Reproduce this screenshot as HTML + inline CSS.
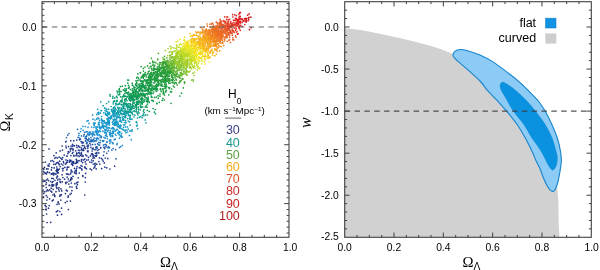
<!DOCTYPE html>
<html><head><meta charset="utf-8"><title>Omega plots</title>
<style>html,body{margin:0;padding:0;background:#fff;overflow:hidden}svg{display:block}</style>
</head><body>
<svg width="600" height="270" viewBox="0 0 600 270">
<rect width="600" height="270" fill="#fff"/>
<g stroke-linecap="round" stroke-width="1.7" fill="none">
<path stroke="#63b533" d="M176.3 62.9h.01M173.2 64.0h.01M165.3 63.1h.01M172.9 68.4h.01M180.8 74.2h.01M185.6 69.1h.01M177.6 69.8h.01M170.2 65.3h.01M179.1 70.4h.01M180.1 68.3h.01M172.8 67.6h.01M181.2 72.5h.01M180.2 72.8h.01M166.5 60.8h.01M166.1 63.0h.01M172.8 68.2h.01M172.7 65.9h.01M172.3 67.7h.01M176.3 68.0h.01M172.5 63.3h.01M169.3 61.5h.01M163.7 62.6h.01M173.8 67.3h.01M180.2 65.6h.01M176.6 74.5h.01M183.9 73.8h.01M179.9 69.5h.01M193.1 79.8h.01M169.4 64.7h.01M180.7 67.6h.01M169.3 65.3h.01M164.6 59.1h.01M169.5 68.6h.01M166.9 57.9h.01M171.2 65.7h.01M176.4 80.1h.01M168.0 67.4h.01M173.9 70.8h.01M176.9 71.1h.01M167.4 68.4h.01M163.4 59.4h.01M170.0 59.4h.01M168.0 62.8h.01"/>
<path stroke="#f3971f" d="M208.7 38.3h.01M206.4 37.9h.01M210.3 37.7h.01M208.5 36.4h.01M213.4 40.1h.01M215.6 46.2h.01M209.8 38.9h.01M217.3 43.9h.01M203.7 37.2h.01M209.7 44.9h.01M204.7 36.8h.01M203.4 36.1h.01M201.2 32.6h.01M216.1 41.2h.01M218.1 47.5h.01M208.4 39.1h.01M205.9 38.5h.01M201.3 38.8h.01M207.1 38.3h.01M213.6 38.8h.01M204.8 32.9h.01M211.5 46.4h.01M206.2 37.6h.01M207.0 39.3h.01M207.0 39.8h.01M208.3 45.9h.01M213.7 41.6h.01M211.1 39.4h.01M208.7 37.2h.01M210.5 38.4h.01M215.3 43.4h.01M209.2 40.5h.01M202.8 33.3h.01M215.3 43.7h.01M205.7 38.4h.01M208.9 39.1h.01M208.3 39.1h.01M210.2 43.4h.01M214.0 36.8h.01M215.3 42.6h.01M214.4 41.3h.01M205.0 34.3h.01M211.4 37.8h.01M206.7 38.2h.01M215.2 43.4h.01M217.4 47.3h.01M205.8 37.8h.01"/>
<path stroke="#f18320" d="M213.3 38.2h.01M217.7 35.1h.01M202.5 29.2h.01M212.9 35.9h.01M210.0 33.8h.01M210.2 34.0h.01M210.9 35.3h.01M215.6 36.2h.01M210.0 34.3h.01M215.0 36.5h.01M214.3 34.5h.01M213.8 36.8h.01M206.5 31.7h.01M210.9 38.6h.01M211.5 37.4h.01M215.1 33.3h.01M207.8 32.8h.01M210.9 35.0h.01M214.1 35.9h.01M206.7 30.4h.01M211.7 35.6h.01M216.8 40.6h.01M206.0 29.7h.01M212.7 40.6h.01M210.7 36.0h.01M210.5 32.3h.01M211.4 31.5h.01M218.6 37.7h.01M212.0 34.3h.01M223.7 45.6h.01M208.7 34.2h.01M210.5 32.8h.01M216.9 44.1h.01M205.3 30.9h.01M212.7 32.9h.01M214.8 32.7h.01M209.9 31.9h.01M219.7 35.5h.01M215.8 36.9h.01M216.0 35.1h.01M214.0 37.5h.01M211.5 36.7h.01M206.3 35.6h.01M211.5 37.4h.01M214.6 32.3h.01"/>
<path stroke="#119db4" d="M107.1 111.4h.01M115.1 110.9h.01M113.5 110.2h.01M117.8 111.4h.01M123.0 119.5h.01M122.2 117.2h.01M115.4 111.4h.01M104.6 108.0h.01M101.4 110.5h.01M127.1 112.9h.01M116.0 105.0h.01M125.3 117.4h.01M125.7 115.8h.01M97.6 109.4h.01M120.7 110.3h.01M113.4 112.3h.01M125.7 117.0h.01M129.7 118.0h.01M119.7 115.0h.01M123.2 114.2h.01M114.4 109.5h.01M130.8 119.3h.01M115.0 107.0h.01M114.6 113.9h.01M116.4 112.9h.01M113.2 114.9h.01M123.8 113.0h.01M124.6 114.4h.01M123.0 118.9h.01M117.8 110.8h.01"/>
<path stroke="#1d9c42" d="M150.4 77.8h.01M154.0 79.2h.01M148.3 79.6h.01M148.8 79.6h.01M155.5 86.3h.01M147.8 80.3h.01M154.7 80.5h.01M158.5 85.1h.01M166.3 90.3h.01M145.3 72.6h.01M157.9 85.7h.01M143.8 75.9h.01M154.2 79.5h.01M163.1 93.1h.01M156.5 84.2h.01M150.8 80.2h.01M161.6 85.6h.01M143.5 71.1h.01M150.2 80.9h.01M156.9 86.1h.01M146.0 83.0h.01M154.7 82.5h.01M152.1 79.4h.01M152.2 76.6h.01M148.9 82.5h.01M154.7 88.5h.01M149.5 75.1h.01M158.6 83.7h.01M162.8 89.1h.01M156.3 88.0h.01M144.8 74.1h.01M156.5 87.6h.01M150.7 80.3h.01M156.3 74.4h.01M150.2 80.3h.01M157.3 80.7h.01M142.8 76.0h.01M163.5 92.2h.01"/>
<path stroke="#263c90" d="M88.3 145.0h.01M95.0 149.8h.01M92.3 148.9h.01M105.3 158.0h.01M93.1 148.1h.01M101.5 158.3h.01M98.8 152.9h.01M78.7 146.6h.01M81.9 142.8h.01M87.5 146.2h.01M86.6 143.7h.01M73.8 140.7h.01M82.2 145.6h.01M103.5 155.3h.01M95.9 147.4h.01M96.8 152.7h.01"/>
<path stroke="#7bbf31" d="M173.6 64.0h.01M179.5 60.4h.01M186.4 71.5h.01M181.9 65.7h.01M186.9 70.6h.01M170.9 65.2h.01M173.5 59.8h.01M173.0 61.6h.01M181.9 67.2h.01M174.0 62.0h.01M177.8 64.8h.01M172.9 69.5h.01M182.9 69.3h.01M175.0 60.4h.01M181.5 70.3h.01M179.6 69.5h.01M177.3 61.7h.01M174.9 64.4h.01M187.1 74.7h.01M173.1 61.7h.01M174.0 61.9h.01M173.7 59.3h.01M175.3 61.4h.01M173.2 62.9h.01M172.1 56.7h.01M177.7 66.1h.01M181.5 72.3h.01M170.2 57.1h.01M183.7 71.2h.01M165.5 63.4h.01M175.9 59.5h.01M174.7 65.1h.01"/>
<path stroke="#a8d12c" d="M177.2 53.1h.01M171.7 47.7h.01M179.9 67.9h.01M189.3 62.6h.01M185.6 61.0h.01M178.1 56.9h.01M180.5 58.5h.01M178.1 62.8h.01M183.2 61.3h.01M182.2 62.0h.01M175.9 61.1h.01M190.1 71.1h.01M181.8 57.5h.01M178.3 54.0h.01M177.1 54.6h.01M172.4 53.1h.01M179.4 53.5h.01M190.8 67.3h.01M177.0 58.8h.01M193.7 67.4h.01M184.2 61.0h.01M176.0 48.4h.01M180.8 54.5h.01M184.1 63.0h.01M189.5 67.9h.01M186.9 67.0h.01M186.8 61.5h.01M181.7 57.7h.01M186.2 69.1h.01M178.5 52.8h.01M182.4 59.4h.01M182.9 57.8h.01M185.9 64.2h.01M185.6 62.5h.01M183.7 59.1h.01M183.3 64.3h.01M174.4 57.0h.01M181.6 58.2h.01M183.1 64.6h.01M183.0 54.9h.01M184.8 63.4h.01M189.0 72.0h.01M178.2 58.4h.01M174.1 51.3h.01M176.4 56.0h.01M177.6 51.4h.01M178.5 58.0h.01M186.0 64.9h.01"/>
<path stroke="#209c3f" d="M148.8 76.4h.01M150.2 76.8h.01M154.6 76.8h.01M156.6 79.8h.01M150.7 73.6h.01M156.9 77.9h.01M157.5 76.5h.01M156.2 75.5h.01M152.3 75.4h.01M153.6 74.5h.01M153.4 78.8h.01M153.8 78.8h.01M158.4 80.0h.01M152.1 74.2h.01M153.2 72.5h.01M148.3 77.2h.01M158.7 80.1h.01M154.9 77.1h.01M151.5 76.4h.01M153.2 72.5h.01M143.3 75.2h.01M158.0 82.4h.01M147.1 74.3h.01M150.2 73.5h.01M161.5 82.1h.01M169.6 87.6h.01M157.6 74.4h.01M166.8 86.6h.01M154.8 76.2h.01M163.8 82.0h.01M169.4 88.6h.01M170.7 91.6h.01M156.9 80.6h.01M150.6 74.6h.01M164.0 88.7h.01M170.6 91.9h.01M158.3 80.1h.01M154.5 78.1h.01M144.4 76.1h.01M159.0 83.2h.01M171.5 92.0h.01M148.4 77.3h.01"/>
<path stroke="#253787" d="M44.5 167.3h.01M67.1 177.1h.01M72.0 178.8h.01M68.9 174.4h.01M76.2 173.7h.01M58.3 172.6h.01M64.6 179.2h.01M57.2 170.6h.01M58.3 170.1h.01M56.6 171.4h.01M85.3 182.0h.01M56.2 170.7h.01M43.6 169.3h.01M53.7 173.3h.01M85.3 177.6h.01M56.7 167.0h.01M78.3 177.8h.01M48.1 165.0h.01M57.5 169.3h.01M48.2 165.9h.01M54.9 173.7h.01M70.7 179.2h.01M49.1 166.1h.01"/>
<path stroke="#e1e523" d="M190.7 52.7h.01M198.0 63.8h.01M201.6 63.8h.01M187.6 59.0h.01M187.8 56.2h.01M192.9 55.2h.01M189.7 50.1h.01M192.3 54.9h.01M182.5 49.3h.01M193.5 55.4h.01M194.7 56.3h.01M195.6 53.4h.01M193.2 52.5h.01M188.9 52.0h.01M186.5 46.5h.01M194.4 52.7h.01M186.5 48.2h.01M183.5 43.7h.01M183.5 50.9h.01M184.2 49.3h.01M188.5 54.3h.01M188.3 53.4h.01M188.4 53.4h.01M192.6 56.3h.01M194.9 55.3h.01M186.4 53.2h.01M187.2 51.6h.01M192.0 52.8h.01M191.8 49.7h.01M176.2 41.9h.01M188.9 48.3h.01M185.6 49.1h.01M187.4 55.0h.01M188.8 48.0h.01M194.3 59.6h.01M188.2 45.6h.01M196.3 58.7h.01"/>
<path stroke="#0b9e9d" d="M121.4 108.2h.01M139.3 117.3h.01M121.9 104.8h.01M134.1 111.3h.01M125.8 112.8h.01M118.4 112.9h.01M129.0 112.3h.01M130.3 110.1h.01M113.4 101.9h.01M119.9 104.1h.01M142.5 115.5h.01M130.0 111.6h.01M133.9 117.0h.01M120.1 112.4h.01M132.1 113.2h.01M132.9 114.6h.01M108.7 101.7h.01M122.1 110.0h.01M132.2 113.6h.01M127.8 113.0h.01M134.8 115.2h.01M122.2 110.1h.01M106.6 103.5h.01M131.2 112.3h.01"/>
<path stroke="#e45629" d="M220.4 20.5h.01M225.0 24.1h.01M230.0 30.9h.01M220.5 22.9h.01M229.0 34.1h.01M229.4 25.9h.01M227.3 27.0h.01M227.6 26.2h.01M226.6 28.8h.01M219.1 23.8h.01M227.3 24.2h.01M231.9 32.4h.01M227.8 27.8h.01M226.4 30.3h.01M227.6 28.4h.01M220.5 22.7h.01M227.9 30.0h.01M226.0 30.9h.01M236.4 32.2h.01M226.8 30.3h.01M232.3 35.2h.01M226.8 31.3h.01M232.5 31.3h.01M225.5 25.9h.01M220.0 19.3h.01M222.9 30.1h.01"/>
<path stroke="#0a9855" d="M119.6 93.1h.01M130.3 97.2h.01M143.7 102.0h.01M142.3 103.7h.01M129.3 96.6h.01M135.5 105.7h.01M137.1 103.2h.01M136.8 103.3h.01M124.4 96.3h.01M125.6 96.2h.01M132.4 96.6h.01M146.4 105.7h.01M122.3 96.8h.01M131.1 96.6h.01M147.2 110.3h.01M128.0 94.6h.01M134.5 95.5h.01M131.0 95.5h.01M132.6 99.0h.01M139.0 100.9h.01M139.9 102.9h.01M133.1 97.8h.01M131.8 99.6h.01M126.0 99.0h.01M124.8 99.7h.01M140.6 106.0h.01M135.9 99.0h.01M133.0 95.2h.01M134.2 102.9h.01M149.2 111.4h.01M119.6 90.9h.01M132.9 92.5h.01M140.4 105.1h.01M124.9 88.9h.01M120.3 86.6h.01M133.5 102.7h.01M133.1 93.0h.01M136.5 98.1h.01M142.3 102.4h.01"/>
<path stroke="#0f9dac" d="M111.4 109.7h.01M114.1 110.8h.01M127.8 113.4h.01M120.2 117.7h.01M128.3 114.1h.01M124.6 112.3h.01M113.5 113.4h.01M137.5 118.0h.01M114.6 112.0h.01M111.6 110.7h.01M126.0 113.8h.01M125.1 117.6h.01M104.9 108.4h.01M113.8 107.5h.01M120.6 111.1h.01M124.2 111.0h.01M119.3 114.7h.01M115.2 114.0h.01M123.9 120.2h.01M111.1 106.5h.01M125.5 111.0h.01M120.8 113.7h.01M126.0 113.6h.01M118.2 112.8h.01M119.1 111.1h.01M119.0 111.1h.01M121.9 113.6h.01M113.0 112.1h.01M116.1 109.7h.01M146.0 122.8h.01M108.8 114.5h.01"/>
<path stroke="#ed7323" d="M217.4 36.7h.01M220.4 39.1h.01M213.7 30.7h.01M215.5 29.4h.01M217.5 33.0h.01M223.0 36.9h.01M221.3 31.4h.01M215.9 31.6h.01M222.5 31.4h.01M212.3 32.0h.01M215.8 31.6h.01M212.5 27.4h.01M217.2 34.8h.01M211.8 23.6h.01M221.7 35.2h.01M212.8 32.8h.01M221.2 39.3h.01M214.7 29.1h.01M218.1 31.9h.01M209.9 24.2h.01M216.5 35.6h.01M218.3 36.1h.01M216.6 31.8h.01M218.2 35.5h.01M221.3 34.0h.01M219.2 34.6h.01M215.1 30.2h.01M213.2 29.7h.01M220.5 35.7h.01M216.0 31.1h.01M213.8 28.8h.01M220.4 36.5h.01M221.4 37.4h.01M220.5 36.3h.01M220.0 32.4h.01M222.5 37.8h.01M213.9 30.6h.01M222.8 36.9h.01M213.9 27.0h.01M219.5 41.3h.01M215.1 30.0h.01M218.5 31.0h.01M219.2 31.3h.01M216.3 33.7h.01"/>
<path stroke="#289e3a" d="M172.0 80.0h.01M164.4 71.3h.01M160.4 68.9h.01M169.5 81.0h.01M175.4 82.5h.01M159.1 66.4h.01M176.0 79.3h.01M166.0 78.1h.01M165.2 78.9h.01M162.2 73.0h.01M157.7 70.2h.01M163.0 76.6h.01M159.7 74.9h.01M162.4 72.3h.01M163.6 72.0h.01M164.9 80.8h.01M161.4 73.8h.01M164.2 72.4h.01M158.1 68.6h.01M167.0 76.2h.01M153.3 69.2h.01M166.0 73.8h.01M174.3 83.6h.01M159.3 67.5h.01M167.8 79.0h.01M165.6 76.6h.01M165.4 72.2h.01M163.8 77.0h.01M162.2 75.8h.01M169.3 76.2h.01M160.8 67.6h.01M163.4 70.7h.01M164.8 76.2h.01M173.2 79.5h.01M169.3 78.9h.01M161.4 68.6h.01M159.2 71.6h.01M154.7 68.7h.01M163.6 73.4h.01"/>
<path stroke="#f4e420" d="M187.4 48.8h.01M188.4 44.1h.01M194.5 55.0h.01M196.4 53.6h.01M199.1 53.7h.01M193.0 50.5h.01M196.4 47.9h.01M193.0 52.6h.01M195.3 53.3h.01M184.9 42.0h.01M188.6 46.2h.01M205.6 56.3h.01M191.2 46.0h.01M193.7 52.4h.01M199.7 53.8h.01M204.4 61.9h.01M207.2 58.1h.01M191.9 48.6h.01M191.2 43.1h.01M195.3 48.9h.01M195.3 47.6h.01M197.7 47.6h.01M193.8 47.7h.01M197.5 51.4h.01M191.2 46.5h.01M193.3 52.2h.01M194.5 44.3h.01M188.1 41.2h.01M187.1 43.4h.01M184.7 44.0h.01M203.0 49.1h.01M208.3 58.4h.01M207.5 57.2h.01M201.3 54.0h.01M191.6 45.7h.01M187.5 44.3h.01M193.5 48.3h.01M195.6 53.6h.01M198.7 53.6h.01M203.0 47.5h.01M196.3 55.6h.01M195.6 45.3h.01M188.4 49.2h.01M200.8 53.7h.01M183.9 46.0h.01M202.5 56.5h.01M200.0 49.3h.01M187.1 42.3h.01M193.5 46.9h.01M193.2 46.8h.01M202.0 51.0h.01M195.0 51.6h.01M187.2 46.5h.01M199.0 57.9h.01M205.0 64.0h.01M195.5 46.9h.01M195.7 50.8h.01M188.0 46.6h.01"/>
<path stroke="#0a9b75" d="M136.6 107.2h.01M114.8 97.9h.01M131.0 97.9h.01M130.2 105.0h.01M133.1 106.1h.01M126.6 103.7h.01M136.7 99.0h.01M145.5 114.8h.01M134.2 110.9h.01M117.1 97.6h.01M138.7 109.8h.01M128.5 103.8h.01M125.3 104.2h.01M117.1 100.4h.01M136.7 104.0h.01M137.2 104.5h.01M126.9 104.5h.01M129.2 98.8h.01M114.5 100.9h.01M135.3 104.5h.01M143.4 111.1h.01M131.8 109.4h.01M130.1 103.7h.01"/>
<path stroke="#0d9da4" d="M128.5 115.5h.01M122.0 108.8h.01M140.6 116.6h.01M130.0 117.2h.01M123.8 116.6h.01M118.9 108.2h.01M100.8 101.8h.01M125.9 115.2h.01M113.1 108.4h.01M118.6 108.3h.01M123.7 113.8h.01M125.3 111.6h.01M136.2 121.9h.01M145.2 119.9h.01M112.2 111.4h.01M118.2 108.7h.01M103.1 105.7h.01M114.7 111.7h.01M111.8 110.2h.01M124.8 116.3h.01M131.9 119.2h.01M130.4 115.4h.01M127.7 118.6h.01M121.0 110.1h.01M127.6 111.3h.01M121.5 113.4h.01M117.1 113.3h.01M122.2 114.6h.01M115.2 108.6h.01"/>
<path stroke="#57b034" d="M164.4 61.1h.01M168.8 63.0h.01M169.3 71.2h.01M169.9 68.7h.01M165.0 61.0h.01M175.7 75.3h.01M180.1 80.9h.01M179.7 76.7h.01M171.2 71.7h.01M171.7 68.3h.01M176.0 71.0h.01M167.8 60.3h.01M167.4 65.9h.01M179.6 75.6h.01M173.7 72.2h.01M169.0 68.3h.01M174.5 75.2h.01M169.5 71.2h.01M161.8 65.1h.01M174.9 75.8h.01M169.7 66.7h.01M171.2 64.8h.01M167.2 64.2h.01M173.5 72.9h.01M173.1 64.2h.01M167.2 64.0h.01M161.4 62.5h.01M165.9 66.1h.01M176.0 74.6h.01M171.4 70.4h.01M163.3 62.2h.01M167.7 61.0h.01M167.1 65.3h.01M177.3 73.3h.01M178.3 75.0h.01M165.9 66.6h.01M167.9 61.4h.01M177.9 77.0h.01M158.4 53.4h.01M174.4 68.1h.01M176.5 68.4h.01M176.0 73.6h.01M172.1 65.8h.01M171.6 67.9h.01M174.2 66.4h.01M157.8 59.0h.01M180.1 78.2h.01"/>
<path stroke="#259d3c" d="M160.7 73.5h.01M165.6 75.7h.01M157.8 71.5h.01M158.5 76.4h.01M157.4 66.9h.01M165.6 80.9h.01M160.3 75.6h.01M166.3 84.2h.01M153.0 74.7h.01M161.6 75.8h.01M157.0 71.8h.01M164.4 86.4h.01M165.9 81.6h.01M167.3 78.2h.01M160.3 72.5h.01M154.0 73.8h.01M170.0 83.2h.01M157.3 73.1h.01M165.2 80.1h.01M168.6 82.8h.01M158.1 70.5h.01M166.7 75.1h.01M154.4 73.1h.01M163.9 73.3h.01M156.2 74.0h.01M156.1 78.4h.01M168.3 80.1h.01M171.9 79.9h.01M162.8 78.1h.01M157.6 74.1h.01M162.0 79.9h.01M157.4 74.7h.01M149.2 71.1h.01M152.2 74.8h.01M149.9 63.2h.01M167.9 80.1h.01M147.6 65.9h.01M169.0 83.3h.01M171.6 89.0h.01M164.0 80.8h.01M156.3 75.8h.01M160.9 75.7h.01"/>
<path stroke="#169a47" d="M142.5 87.6h.01M136.1 85.1h.01M151.1 85.7h.01M136.7 77.9h.01M142.2 87.0h.01M148.9 89.0h.01M138.9 80.0h.01M145.7 88.8h.01M146.2 87.7h.01M144.9 86.0h.01M151.3 88.9h.01M136.9 86.5h.01M148.3 90.3h.01M151.2 96.1h.01M151.1 90.3h.01M150.5 90.0h.01M148.1 91.8h.01M147.6 89.9h.01M136.6 82.1h.01M145.0 88.5h.01M164.3 100.1h.01M141.4 85.9h.01M146.8 83.1h.01M141.0 83.5h.01M148.1 89.3h.01M144.7 87.1h.01M151.8 88.1h.01M150.2 93.6h.01M151.6 89.3h.01M139.1 87.7h.01M150.1 93.5h.01"/>
<path stroke="#243483" d="M48.5 180.6h.01M52.0 184.8h.01M47.4 179.0h.01M52.8 184.8h.01M52.7 185.6h.01M52.9 186.1h.01M72.0 187.0h.01M53.8 184.8h.01M43.1 181.5h.01M61.0 188.9h.01M76.4 186.5h.01M46.4 182.8h.01M56.6 187.6h.01"/>
<path stroke="#0c984e" d="M134.0 92.6h.01M138.1 94.9h.01M126.3 90.5h.01M134.2 99.8h.01M140.8 101.8h.01M136.6 97.2h.01M135.3 93.9h.01M141.6 97.9h.01M120.9 91.6h.01M119.4 89.3h.01M147.7 101.6h.01M138.1 92.6h.01M137.3 96.4h.01M138.1 94.3h.01M132.4 97.9h.01M134.3 95.8h.01M155.3 109.5h.01M136.7 104.7h.01M141.7 94.2h.01M118.7 91.5h.01M134.7 96.6h.01M144.4 101.1h.01M144.9 99.6h.01M128.6 92.0h.01M126.8 93.0h.01M147.3 102.0h.01M133.4 94.8h.01M137.4 96.8h.01M131.1 96.6h.01M131.1 95.0h.01M147.3 99.7h.01M128.3 92.9h.01M135.3 96.4h.01M137.9 98.2h.01M126.4 88.9h.01M136.2 90.8h.01M138.4 102.2h.01M132.1 96.9h.01"/>
<path stroke="#e34a28" d="M229.6 29.3h.01M231.7 25.3h.01M225.4 26.2h.01M227.6 27.6h.01M235.6 35.9h.01M230.8 27.1h.01M230.0 25.8h.01M234.2 32.4h.01M237.1 25.9h.01M226.7 24.1h.01M224.7 27.4h.01M228.9 24.7h.01M228.2 29.5h.01M228.9 29.4h.01M235.7 26.7h.01M225.9 26.2h.01M220.3 22.3h.01M237.0 31.4h.01M225.5 22.9h.01"/>
<path stroke="#1c9b43" d="M168.8 94.8h.01M165.6 87.6h.01M154.7 82.1h.01M140.5 72.8h.01M150.6 78.3h.01M150.3 76.4h.01M150.4 82.9h.01M143.1 76.2h.01M165.8 88.5h.01M148.7 80.6h.01M163.7 93.9h.01M143.4 78.3h.01M147.2 79.8h.01M137.8 73.8h.01M155.1 86.9h.01M160.8 89.9h.01M145.0 74.3h.01M154.5 89.5h.01M146.0 75.6h.01M151.4 79.7h.01M160.5 88.6h.01M156.3 88.0h.01M151.9 79.5h.01M138.6 78.1h.01M149.8 82.8h.01M155.9 86.0h.01M149.2 80.5h.01M150.0 78.5h.01M145.0 80.1h.01M153.7 83.0h.01M141.9 80.9h.01M146.5 80.6h.01M151.7 82.0h.01"/>
<path stroke="#0a9d8a" d="M118.4 104.4h.01M112.9 96.4h.01M136.1 109.3h.01M143.3 114.0h.01M129.6 109.6h.01M131.5 107.3h.01M124.0 111.1h.01M123.3 104.0h.01M140.2 109.8h.01M114.3 107.0h.01M123.5 108.3h.01M117.9 104.4h.01M144.2 112.6h.01M131.3 107.7h.01M130.0 107.6h.01M127.6 108.1h.01M130.9 109.4h.01M132.3 106.7h.01M124.0 102.8h.01M133.0 108.2h.01M130.4 108.5h.01M126.0 111.2h.01M121.5 100.3h.01M134.0 108.5h.01M113.3 103.8h.01"/>
<path stroke="#f18920" d="M216.2 34.2h.01M209.0 33.3h.01M219.8 46.4h.01M215.7 34.7h.01M204.2 32.2h.01M215.5 44.0h.01M204.1 27.4h.01M221.1 46.6h.01M213.4 39.5h.01M214.8 39.3h.01M205.8 33.6h.01M214.6 40.8h.01M210.8 34.6h.01M206.8 35.0h.01M209.1 33.3h.01M211.9 36.8h.01M210.4 34.3h.01M211.8 35.7h.01M216.5 36.3h.01M200.8 27.4h.01M213.0 37.5h.01M208.8 32.1h.01M215.4 38.0h.01M210.0 35.9h.01M215.7 36.0h.01M212.2 36.0h.01M222.9 43.5h.01M207.6 35.2h.01M207.4 33.1h.01M212.2 38.2h.01M216.1 38.4h.01M217.2 37.5h.01M202.4 32.3h.01M219.7 42.2h.01M218.2 39.7h.01M207.6 40.6h.01M216.2 45.7h.01M218.7 43.8h.01M210.1 38.4h.01"/>
<path stroke="#ee7821" d="M212.4 26.5h.01M217.5 30.7h.01M215.8 33.4h.01M215.1 32.6h.01M217.8 34.7h.01M220.7 36.5h.01M215.3 35.1h.01M213.7 32.7h.01M212.7 33.0h.01M219.0 35.1h.01M214.6 28.4h.01M219.3 36.6h.01M224.1 41.3h.01M222.8 35.8h.01M219.9 35.2h.01M227.2 41.3h.01M213.4 29.5h.01M222.4 42.5h.01M222.5 37.8h.01M220.9 31.8h.01M214.9 29.4h.01M213.0 29.0h.01M218.5 35.6h.01M217.0 31.5h.01M214.2 33.2h.01M216.2 33.8h.01M217.9 34.8h.01M214.9 31.1h.01M216.9 34.0h.01M210.0 30.6h.01M214.0 31.4h.01M222.3 40.6h.01M212.1 30.3h.01M221.8 39.8h.01M218.3 34.4h.01M211.3 29.7h.01M219.0 32.7h.01M214.7 33.1h.01M213.0 33.9h.01M219.0 41.5h.01"/>
<path stroke="#263b8f" d="M84.7 147.2h.01M81.5 148.1h.01M83.6 148.7h.01M83.9 145.6h.01M81.5 149.3h.01M65.7 141.8h.01M99.8 164.1h.01M92.2 154.6h.01M87.5 151.1h.01M74.6 145.8h.01M66.1 141.4h.01M76.7 145.3h.01M87.3 146.0h.01M93.4 155.8h.01M92.3 153.5h.01M87.9 150.7h.01M98.9 149.6h.01M79.8 147.2h.01M87.8 148.1h.01M85.5 148.6h.01M83.0 150.1h.01"/>
<path stroke="#2077c2" d="M80.6 131.5h.01M94.8 140.9h.01M98.9 142.3h.01M95.2 144.4h.01M92.6 141.3h.01M86.2 131.6h.01M77.6 129.3h.01M86.8 135.9h.01M93.6 139.7h.01M101.4 136.3h.01M88.8 138.3h.01M87.6 139.9h.01M96.1 140.9h.01M86.0 136.7h.01M78.9 133.4h.01M92.2 133.4h.01M98.5 138.8h.01"/>
<path stroke="#c5db27" d="M187.4 59.0h.01M177.3 51.2h.01M188.8 55.7h.01M183.2 53.1h.01M184.9 59.5h.01M189.7 58.4h.01M185.5 64.8h.01M190.2 53.6h.01M189.9 60.7h.01M194.5 62.8h.01M190.7 58.1h.01M184.9 57.3h.01M184.5 53.9h.01M182.3 54.0h.01M196.7 65.3h.01M196.4 63.0h.01M189.8 58.2h.01M198.3 66.5h.01M184.2 58.4h.01M185.7 56.0h.01M183.7 53.5h.01M178.9 47.3h.01M187.9 53.9h.01M197.3 67.1h.01M182.3 57.6h.01M198.7 68.6h.01M182.8 51.7h.01M189.5 65.9h.01M180.8 51.3h.01M183.0 51.8h.01M194.6 66.1h.01M180.5 53.6h.01M190.3 59.7h.01"/>
<path stroke="#25388a" d="M85.6 173.4h.01M85.3 167.4h.01M56.2 152.8h.01M73.5 163.4h.01M71.5 164.1h.01M81.0 165.6h.01M77.1 166.6h.01M69.6 161.0h.01M64.2 155.1h.01M82.6 162.6h.01M72.3 164.6h.01M67.2 162.1h.01M84.7 167.0h.01M90.2 168.9h.01M72.2 162.4h.01M84.8 167.2h.01"/>
<path stroke="#e76027" d="M222.5 27.9h.01M217.7 25.8h.01M217.0 31.0h.01M222.2 26.1h.01M225.0 33.4h.01M225.8 29.6h.01M227.6 35.4h.01M230.7 30.9h.01M219.5 26.3h.01M225.4 27.9h.01M223.0 32.1h.01M230.4 33.5h.01M229.6 39.7h.01M226.7 34.6h.01M216.1 27.8h.01M220.7 24.4h.01M223.6 30.3h.01M221.3 32.9h.01M228.3 30.3h.01M230.1 32.4h.01M218.2 27.8h.01M227.5 35.1h.01M219.1 26.6h.01M216.0 26.8h.01M229.6 32.5h.01M232.7 39.7h.01M231.3 33.0h.01M235.9 37.2h.01M228.6 32.5h.01M227.7 27.7h.01M233.6 39.9h.01M223.3 31.5h.01M222.5 33.9h.01M229.6 37.2h.01M226.0 34.1h.01M219.6 28.5h.01M227.0 34.6h.01M222.1 25.0h.01"/>
<path stroke="#88c430" d="M169.8 55.4h.01M184.1 67.9h.01M175.2 56.7h.01M193.0 73.2h.01M179.7 65.7h.01M178.5 58.1h.01M191.7 80.1h.01M183.8 65.7h.01M184.1 65.8h.01M177.2 56.9h.01M170.8 60.8h.01M173.3 57.2h.01M177.3 65.6h.01M174.1 59.0h.01M173.5 57.8h.01M178.4 60.6h.01M171.6 58.4h.01M178.6 63.2h.01M185.8 72.2h.01M175.9 63.2h.01M181.4 64.4h.01M180.0 66.8h.01M179.6 65.1h.01M179.3 63.6h.01M175.3 58.3h.01M169.4 52.2h.01M184.0 70.6h.01M176.5 66.2h.01M182.1 75.8h.01M174.2 63.5h.01M186.5 72.5h.01M178.9 64.7h.01M176.7 62.7h.01M177.2 56.8h.01M171.5 57.3h.01M178.2 63.2h.01M185.7 73.6h.01M179.3 61.9h.01M170.6 55.2h.01M173.5 61.2h.01M170.4 62.7h.01M171.0 57.1h.01M178.1 62.6h.01M175.1 58.4h.01M175.1 62.1h.01M177.6 64.3h.01M182.4 59.5h.01M171.0 61.6h.01M186.7 75.1h.01M177.8 68.2h.01M193.4 81.1h.01M175.8 61.7h.01M172.3 53.4h.01M171.4 63.1h.01M176.2 56.2h.01M182.8 74.2h.01"/>
<path stroke="#129a4a" d="M142.1 90.6h.01M128.5 85.4h.01M140.5 88.7h.01M138.8 95.0h.01M144.4 94.1h.01M143.0 90.2h.01M134.6 89.9h.01M136.3 89.1h.01M142.9 94.4h.01M153.4 101.3h.01M151.6 97.2h.01M141.0 88.3h.01M135.2 91.8h.01M142.3 87.4h.01M144.5 94.7h.01M134.5 87.1h.01M142.6 91.4h.01M139.0 86.8h.01M141.5 86.6h.01M139.4 84.0h.01M139.0 89.6h.01M147.6 89.4h.01M156.9 103.4h.01M138.2 87.7h.01M139.2 94.6h.01M150.7 94.1h.01M139.8 91.0h.01M129.2 87.0h.01"/>
<path stroke="#b2d42a" d="M178.5 58.0h.01M181.1 61.0h.01M190.9 60.4h.01M186.6 59.8h.01M179.1 53.1h.01M181.1 59.7h.01M182.1 51.6h.01M184.3 56.2h.01M189.8 64.1h.01M179.5 56.1h.01M187.0 64.9h.01M192.1 61.2h.01M191.6 64.4h.01M183.0 57.8h.01M182.7 61.4h.01M180.8 58.4h.01M179.6 58.9h.01M191.7 64.5h.01M184.6 55.6h.01M186.8 62.1h.01M176.5 53.2h.01M180.9 55.8h.01M170.9 51.5h.01M173.9 47.9h.01M175.2 50.8h.01M181.2 56.9h.01M184.0 67.0h.01M181.6 55.5h.01M177.1 47.1h.01M191.6 69.0h.01M192.2 67.2h.01M185.1 53.1h.01M181.9 60.9h.01M180.4 54.6h.01M176.1 54.6h.01M180.8 58.0h.01M182.2 58.1h.01M186.8 63.2h.01M175.8 55.2h.01M178.5 57.8h.01M197.4 70.0h.01M180.3 56.7h.01M188.1 60.7h.01M185.4 59.9h.01M181.1 57.8h.01M185.5 61.0h.01M189.7 63.2h.01M181.3 55.8h.01M181.1 55.3h.01M194.7 63.7h.01M168.1 48.5h.01M181.1 53.5h.01M186.5 63.3h.01"/>
<path stroke="#f5a51f" d="M206.2 48.8h.01M208.9 40.2h.01M217.1 47.2h.01M206.3 46.9h.01M204.0 44.5h.01M206.1 40.3h.01M207.9 37.2h.01M206.9 41.2h.01M203.6 36.5h.01M209.3 44.4h.01M206.3 40.4h.01M215.0 49.9h.01M207.6 41.7h.01M206.8 38.9h.01M213.7 45.3h.01M213.7 42.1h.01M208.9 43.7h.01M205.2 41.8h.01M211.0 41.8h.01M196.7 32.9h.01M204.1 36.0h.01M196.9 38.8h.01M207.7 38.8h.01M207.5 43.2h.01M208.3 47.1h.01M202.3 42.2h.01M197.8 32.2h.01M204.6 33.0h.01M208.2 40.8h.01M210.3 52.2h.01M200.1 34.8h.01M201.6 44.0h.01M209.8 40.7h.01M198.9 32.0h.01M209.7 44.0h.01M203.2 35.3h.01M201.9 39.6h.01M209.8 41.7h.01M202.8 39.1h.01M203.0 35.9h.01M199.9 33.2h.01M210.6 39.2h.01M202.8 39.9h.01M203.6 42.0h.01"/>
<path stroke="#f6cb1f" d="M198.9 45.0h.01M195.1 40.7h.01M196.7 44.4h.01M194.1 46.9h.01M191.1 39.9h.01M198.0 41.2h.01M204.8 49.5h.01M191.0 41.1h.01M206.7 50.2h.01M199.5 47.2h.01M195.8 45.2h.01M198.9 44.6h.01M198.2 43.2h.01M194.3 43.7h.01M206.6 52.0h.01M192.2 38.6h.01M196.4 44.6h.01M203.9 50.6h.01M204.3 51.1h.01M200.3 48.0h.01M200.8 52.2h.01M203.7 56.2h.01M193.7 41.8h.01M196.0 41.5h.01M203.2 45.3h.01M209.9 57.5h.01M198.1 49.0h.01M200.1 45.5h.01M192.1 41.3h.01M200.9 48.9h.01M202.4 44.7h.01M195.6 45.5h.01M195.0 40.6h.01M193.2 42.6h.01M200.1 46.4h.01M201.5 47.1h.01M204.4 47.2h.01M197.0 44.1h.01M194.2 41.1h.01M195.4 45.7h.01"/>
<path stroke="#e12622" d="M238.8 24.1h.01M240.5 23.0h.01M232.8 17.0h.01M226.9 17.0h.01M238.1 22.3h.01M239.4 22.0h.01M240.3 30.3h.01M238.0 22.3h.01M236.2 18.4h.01M237.8 22.9h.01M228.1 19.7h.01M235.2 20.7h.01M237.1 25.4h.01M237.3 21.9h.01M239.1 26.3h.01"/>
<path stroke="#24327f" d="M48.5 208.2h.01M57.7 210.8h.01M59.8 211.5h.01M58.2 202.6h.01M46.1 209.0h.01M47.4 197.0h.01M57.5 215.2h.01M68.4 209.5h.01M46.2 195.5h.01M49.2 205.6h.01M46.2 206.7h.01M43.7 193.5h.01M53.2 199.9h.01M43.4 196.9h.01M45.2 205.4h.01M45.8 209.5h.01M61.6 208.1h.01M56.4 211.7h.01M46.1 209.8h.01M59.1 204.0h.01M52.2 200.8h.01M50.7 222.3h.01M47.1 222.5h.01M57.0 204.3h.01M46.9 200.0h.01M49.6 198.8h.01M45.2 205.6h.01M46.6 214.0h.01M61.6 214.4h.01M65.3 202.6h.01"/>
<path stroke="#263b8e" d="M96.3 155.9h.01M69.0 152.2h.01M68.5 146.6h.01M96.4 155.5h.01M91.4 153.9h.01M82.1 150.4h.01M76.7 153.4h.01M114.6 166.2h.01M92.9 158.1h.01M83.0 155.7h.01M88.0 151.8h.01M91.8 162.3h.01M103.2 161.1h.01M79.1 156.4h.01M106.8 167.8h.01M77.0 147.4h.01M102.5 159.7h.01M99.5 157.9h.01M88.3 159.8h.01M90.5 155.9h.01M95.1 155.5h.01M78.3 150.0h.01M70.9 148.4h.01M65.9 146.0h.01M79.0 152.4h.01M86.8 155.8h.01M78.5 145.8h.01M96.8 155.0h.01M71.0 146.0h.01M73.0 150.1h.01M79.8 150.3h.01M81.7 154.1h.01M70.7 149.0h.01M93.0 154.5h.01M72.5 144.4h.01M83.7 150.4h.01M80.6 155.4h.01M107.8 158.6h.01M81.3 152.5h.01M72.4 146.4h.01"/>
<path stroke="#e65b28" d="M216.4 22.2h.01M218.0 26.5h.01M229.2 27.9h.01M230.5 31.1h.01M221.0 25.5h.01M221.5 25.2h.01M219.6 24.2h.01M217.5 24.0h.01M221.3 21.3h.01M230.6 33.0h.01M221.9 29.1h.01M225.2 30.0h.01M227.5 32.3h.01M228.4 34.2h.01M222.1 25.8h.01M221.6 25.6h.01M226.1 28.7h.01M222.9 27.4h.01M220.4 22.2h.01M219.8 23.7h.01M223.5 27.7h.01M225.4 29.2h.01M219.3 22.6h.01M216.0 25.9h.01M221.1 25.6h.01M222.0 31.6h.01M232.9 37.8h.01M224.9 31.5h.01M228.0 34.3h.01M224.4 25.8h.01M222.8 24.4h.01M224.1 26.8h.01M223.8 26.5h.01M227.0 36.5h.01M222.6 27.8h.01M225.8 29.5h.01"/>
<path stroke="#269d3b" d="M165.4 81.3h.01M166.4 81.0h.01M160.9 72.5h.01M145.1 67.0h.01M151.4 68.4h.01M156.2 71.7h.01M153.3 62.8h.01M156.3 69.3h.01M157.3 73.8h.01M158.0 69.4h.01M172.2 80.4h.01M164.6 78.1h.01M161.2 72.3h.01M156.1 71.9h.01M165.1 77.4h.01M168.2 81.1h.01M174.6 83.6h.01M163.7 72.8h.01M163.1 73.3h.01M164.7 74.0h.01M163.5 69.3h.01M161.2 79.5h.01M163.5 79.8h.01M167.3 72.9h.01M150.5 66.7h.01M167.0 72.1h.01M158.0 77.1h.01M158.2 69.1h.01M154.2 66.8h.01M150.9 66.2h.01M165.0 73.7h.01M172.6 82.4h.01M167.2 81.1h.01M161.3 76.2h.01M162.3 76.0h.01M163.3 73.6h.01M154.1 73.2h.01M167.9 73.2h.01M160.0 72.7h.01M159.4 69.4h.01M164.8 84.4h.01M162.5 67.7h.01"/>
<path stroke="#f49e1f" d="M214.3 38.7h.01M203.2 39.5h.01M217.6 48.4h.01M209.5 40.9h.01M209.3 42.1h.01M198.0 35.9h.01M211.5 42.7h.01M200.7 32.0h.01M204.4 37.9h.01M208.1 43.7h.01M208.5 40.4h.01M217.1 51.3h.01M207.4 36.6h.01M192.6 36.2h.01M209.9 40.7h.01M198.3 38.7h.01M207.7 38.7h.01M205.5 40.2h.01M214.8 48.7h.01M204.7 36.1h.01M214.1 46.2h.01M210.4 46.6h.01M215.6 43.5h.01M202.9 31.4h.01M210.3 46.0h.01M216.3 42.0h.01M205.2 36.7h.01M208.0 38.9h.01M208.5 38.6h.01M203.6 35.2h.01M210.9 41.6h.01M216.1 50.1h.01M207.5 45.1h.01M211.8 46.1h.01M204.9 41.2h.01M211.9 49.3h.01M205.2 39.1h.01M204.9 40.8h.01M212.2 38.3h.01M210.5 45.4h.01M217.0 49.1h.01M214.9 42.2h.01M208.3 37.8h.01"/>
<path stroke="#e24227" d="M225.5 21.6h.01M228.2 24.0h.01M231.0 24.8h.01M239.4 28.9h.01M224.7 22.0h.01M227.8 23.9h.01M231.0 26.4h.01M229.7 25.7h.01M231.7 23.8h.01M231.4 27.5h.01M225.5 22.7h.01M228.5 23.0h.01M230.3 30.8h.01M233.2 22.7h.01"/>
<path stroke="#f07c20" d="M213.4 40.8h.01M219.0 39.6h.01M213.8 40.1h.01M216.6 39.5h.01M214.9 40.8h.01M218.6 39.1h.01M209.4 30.3h.01M210.0 27.1h.01M216.3 38.0h.01M217.1 37.9h.01M210.5 26.9h.01M220.4 41.5h.01M211.6 35.9h.01M214.9 33.0h.01M208.5 34.6h.01M205.1 30.4h.01M212.4 35.7h.01M207.1 24.0h.01M217.2 40.0h.01M220.0 40.0h.01M218.8 31.0h.01M215.7 32.5h.01M210.8 42.7h.01M215.1 34.6h.01M219.0 40.9h.01M212.4 35.5h.01M216.3 34.7h.01M208.9 31.0h.01M208.8 29.8h.01M214.6 37.4h.01M216.8 37.3h.01M208.5 32.6h.01M206.6 30.4h.01M215.4 28.7h.01M207.3 26.2h.01M214.6 35.2h.01M215.7 41.3h.01M212.6 33.0h.01M210.7 35.3h.01M209.3 29.9h.01M217.5 33.9h.01M216.5 37.1h.01M216.9 37.8h.01M211.9 37.0h.01M221.0 39.6h.01"/>
<path stroke="#263a8d" d="M76.7 153.1h.01M80.0 153.9h.01M94.0 157.6h.01M72.3 153.3h.01M78.5 153.0h.01M62.1 146.0h.01M68.2 151.7h.01M98.9 161.5h.01M73.0 152.3h.01M94.4 158.0h.01M73.8 155.4h.01M104.3 162.9h.01M95.1 165.5h.01M94.9 164.1h.01M93.3 164.0h.01M96.0 156.3h.01M89.9 162.2h.01M70.1 149.1h.01M93.2 160.8h.01M75.7 150.8h.01M77.9 155.8h.01M73.1 149.2h.01M91.6 160.0h.01M77.9 160.9h.01M71.8 148.5h.01M109.9 169.0h.01M62.5 150.1h.01"/>
<path stroke="#1798ca" d="M123.5 125.0h.01M112.5 122.2h.01M113.6 123.9h.01M123.5 129.9h.01M123.5 127.4h.01M109.3 123.6h.01M119.7 127.8h.01M98.7 122.8h.01M99.6 120.5h.01M105.8 122.5h.01M107.1 128.1h.01M116.1 124.5h.01M109.5 121.0h.01M125.6 126.8h.01M101.5 119.9h.01M111.1 118.2h.01M94.9 120.0h.01M97.9 117.9h.01M125.9 122.6h.01M108.3 124.0h.01M124.8 124.8h.01M106.5 125.6h.01M115.4 124.6h.01M111.6 118.0h.01M122.5 129.3h.01M118.5 131.0h.01M108.2 121.4h.01M116.5 122.1h.01M116.5 129.5h.01M119.7 125.6h.01"/>
<path stroke="#0e994d" d="M140.1 94.9h.01M142.7 99.4h.01M132.4 88.9h.01M133.1 100.3h.01M149.2 102.4h.01M133.1 85.8h.01M130.4 89.5h.01M143.9 95.2h.01M140.7 93.2h.01M147.6 98.7h.01M147.5 104.1h.01M130.2 93.7h.01M139.9 96.3h.01M133.2 92.7h.01M146.4 97.9h.01M135.0 87.6h.01M146.6 101.2h.01M150.5 93.0h.01M137.2 97.7h.01M140.0 95.8h.01M132.5 96.2h.01M128.0 92.8h.01M125.3 85.7h.01M133.8 92.6h.01M148.8 101.1h.01M124.6 90.7h.01"/>
<path stroke="#e86426" d="M220.5 26.6h.01M226.9 35.6h.01M215.3 29.1h.01M221.3 27.0h.01M214.0 26.9h.01M224.0 32.4h.01M221.8 35.9h.01M213.3 25.1h.01M223.9 31.4h.01M229.5 35.6h.01M224.3 32.6h.01M223.4 32.5h.01M223.1 31.1h.01M221.9 33.4h.01M224.5 32.5h.01M218.9 26.8h.01M218.9 30.8h.01M221.0 28.8h.01M222.1 26.1h.01M221.4 31.8h.01M225.8 33.5h.01M217.9 28.2h.01M224.1 32.3h.01M217.6 35.2h.01M225.8 31.8h.01M226.9 37.6h.01M224.6 28.8h.01M222.2 27.7h.01M218.3 29.3h.01M217.5 23.1h.01"/>
<path stroke="#0a9e94" d="M121.9 101.8h.01M136.8 122.7h.01M128.6 111.9h.01M119.9 107.5h.01M124.2 108.7h.01M121.9 101.1h.01M128.0 109.9h.01M116.4 104.2h.01M132.3 112.0h.01M135.9 111.5h.01M138.3 111.8h.01M117.8 107.4h.01M130.7 112.3h.01M127.9 106.7h.01M118.8 109.7h.01M123.8 106.8h.01M127.8 107.2h.01M122.7 106.3h.01M117.9 114.8h.01M126.2 106.6h.01M126.9 105.9h.01M130.2 115.5h.01M136.4 111.8h.01M130.8 112.0h.01M125.5 109.1h.01M137.9 114.9h.01M143.9 115.6h.01M129.3 115.4h.01M117.0 101.3h.01M122.2 110.9h.01"/>
<path stroke="#254b9e" d="M88.2 146.3h.01M89.2 141.6h.01M97.0 147.0h.01M82.7 142.9h.01M104.7 148.6h.01M93.2 149.1h.01M105.8 146.8h.01M97.6 150.4h.01M96.6 153.5h.01M80.4 139.0h.01M82.4 142.0h.01M108.6 146.9h.01M96.0 149.1h.01M83.4 142.6h.01M87.8 146.7h.01M106.7 153.3h.01M92.6 144.5h.01M89.9 143.5h.01M116.0 158.8h.01"/>
<path stroke="#25398b" d="M70.2 160.9h.01M85.3 168.0h.01M62.7 157.5h.01M56.9 162.8h.01M70.9 155.6h.01M70.8 161.3h.01M76.6 160.2h.01M73.2 163.1h.01M66.6 162.3h.01M72.6 161.7h.01M93.8 168.1h.01M76.7 161.7h.01M67.1 156.1h.01M73.6 161.6h.01M86.5 168.8h.01M70.4 151.0h.01M66.7 156.1h.01M60.1 150.9h.01M67.7 160.6h.01M75.1 163.2h.01M55.9 157.3h.01M66.0 159.9h.01M61.9 159.3h.01M59.1 157.2h.01M76.2 159.3h.01M49.0 148.9h.01M81.8 169.9h.01M94.8 166.9h.01M80.3 167.9h.01M96.2 168.9h.01M75.4 163.5h.01M59.7 161.2h.01M79.2 160.6h.01M82.0 166.3h.01M76.5 163.1h.01M77.7 162.5h.01M71.0 160.4h.01"/>
<path stroke="#243381" d="M70.1 194.4h.01M70.4 201.1h.01M49.7 185.4h.01M68.2 195.9h.01M65.4 193.6h.01M48.1 190.8h.01M60.8 200.1h.01M49.1 185.4h.01M50.8 191.1h.01M68.1 197.2h.01M59.2 191.1h.01M51.8 192.1h.01"/>
<path stroke="#f6c31e" d="M204.8 48.8h.01M201.9 48.1h.01M199.0 45.8h.01M203.2 48.8h.01M199.6 45.3h.01M202.3 46.5h.01M196.4 44.9h.01M207.9 54.7h.01M202.8 46.5h.01M205.4 60.0h.01M197.8 44.0h.01M200.3 38.6h.01M202.9 49.5h.01M202.7 44.9h.01M203.1 47.2h.01M198.5 36.4h.01M208.0 55.8h.01M202.5 47.3h.01M212.6 55.2h.01M196.0 42.8h.01M196.8 38.3h.01M193.7 42.8h.01M204.4 56.4h.01M203.3 49.6h.01M198.6 42.9h.01M201.9 43.4h.01M202.9 47.6h.01M200.9 46.9h.01M204.3 50.0h.01M212.0 51.8h.01M193.8 39.5h.01M200.1 42.5h.01M198.0 44.0h.01M210.1 57.2h.01M205.6 56.0h.01M200.6 53.1h.01M190.0 33.6h.01M208.4 55.6h.01M202.6 47.0h.01M199.7 46.4h.01M193.3 35.2h.01M193.2 40.3h.01M200.2 44.6h.01"/>
<path stroke="#f2901f" d="M202.8 30.4h.01M213.8 35.2h.01M207.1 37.1h.01M207.9 35.9h.01M211.0 39.2h.01M207.4 39.4h.01M205.5 32.1h.01M208.7 38.4h.01M211.2 38.7h.01M206.5 29.2h.01M208.2 35.0h.01M206.2 34.2h.01M218.5 45.6h.01M207.1 36.4h.01M219.7 50.9h.01M206.5 34.7h.01M215.6 44.0h.01M210.7 38.8h.01M215.9 45.1h.01M212.9 38.5h.01M215.8 42.5h.01M214.5 45.4h.01M213.6 44.5h.01M212.7 40.2h.01M213.5 37.6h.01M214.8 34.3h.01M217.7 41.6h.01M214.6 38.9h.01M213.4 44.2h.01M220.9 43.2h.01M216.1 32.2h.01M207.5 31.0h.01M212.3 41.4h.01M210.6 39.5h.01M214.4 43.0h.01M215.1 40.5h.01M207.8 39.5h.01M208.9 36.0h.01M208.6 38.3h.01M210.6 41.0h.01M207.5 33.1h.01"/>
<path stroke="#4bab35" d="M179.8 81.9h.01M163.1 62.9h.01M169.1 71.4h.01M171.4 71.2h.01M168.6 68.6h.01M164.5 56.3h.01M169.5 73.1h.01M166.4 63.0h.01M165.8 64.3h.01M181.4 80.2h.01M157.6 59.7h.01M163.4 63.7h.01M169.3 70.7h.01M163.2 64.5h.01M166.4 62.2h.01M177.8 76.5h.01M184.5 83.3h.01M163.0 66.2h.01M169.0 66.1h.01M172.2 70.9h.01M169.7 70.6h.01M176.4 76.1h.01M166.3 64.5h.01M172.2 66.0h.01M172.0 67.0h.01M174.3 74.4h.01M172.2 72.7h.01M166.6 66.0h.01M160.4 63.0h.01M168.7 64.6h.01M181.0 74.9h.01M182.4 78.6h.01M168.0 64.3h.01M184.5 82.7h.01M157.9 64.1h.01M175.0 75.5h.01M172.0 74.8h.01"/>
<path stroke="#f7ba1e" d="M205.2 51.1h.01M203.3 43.2h.01M204.6 45.1h.01M193.8 39.9h.01M203.2 44.9h.01M200.4 41.0h.01M201.8 43.2h.01M213.6 52.2h.01M199.9 39.9h.01M208.3 49.6h.01M200.0 43.8h.01M203.9 46.9h.01M193.5 38.9h.01M206.5 49.6h.01M208.5 46.2h.01M208.3 49.3h.01M211.9 50.3h.01M203.3 46.8h.01M202.2 45.1h.01M206.4 46.7h.01M206.3 51.5h.01M204.0 49.5h.01M207.8 49.8h.01M203.9 48.7h.01M196.7 44.0h.01M201.6 48.1h.01M202.6 47.2h.01M194.0 40.4h.01M202.4 53.6h.01M206.6 51.1h.01M195.9 38.9h.01M204.3 47.4h.01M199.1 36.9h.01M199.5 40.9h.01M202.8 44.3h.01M205.2 49.9h.01M212.0 45.3h.01M198.8 42.3h.01M212.7 53.1h.01M199.0 47.7h.01M200.5 40.7h.01M209.0 57.4h.01M191.6 41.7h.01M214.8 55.7h.01M193.9 35.2h.01M203.6 43.5h.01"/>
<path stroke="#f4ec20" d="M197.0 59.1h.01M199.1 60.6h.01M195.3 53.2h.01M192.9 50.3h.01M192.1 49.3h.01M182.8 46.6h.01M198.3 60.2h.01M195.7 53.2h.01M189.8 46.5h.01M187.5 47.9h.01M189.6 47.7h.01M195.8 49.1h.01M189.6 45.9h.01M185.4 44.2h.01M188.7 45.8h.01M191.0 48.1h.01M196.6 54.9h.01M186.0 47.3h.01M195.9 58.1h.01M194.0 57.8h.01M196.0 49.8h.01M196.2 53.4h.01M185.8 49.1h.01M187.0 44.2h.01M209.4 62.0h.01M202.6 61.0h.01M186.7 49.8h.01M195.4 54.6h.01M188.7 47.1h.01M191.8 44.1h.01M201.4 57.4h.01M197.0 56.8h.01M190.7 50.6h.01M206.8 56.5h.01M198.9 56.6h.01M194.4 54.4h.01M195.7 50.2h.01M188.6 47.0h.01M201.0 54.6h.01M198.5 52.8h.01M187.0 43.0h.01M193.5 48.2h.01M199.5 58.2h.01"/>
<path stroke="#149cc4" d="M123.3 118.9h.01M114.1 116.8h.01M124.6 122.5h.01M105.5 114.3h.01M110.5 116.3h.01M112.9 114.1h.01M119.2 117.5h.01M111.5 116.1h.01M129.6 121.9h.01M120.5 120.4h.01M113.7 115.8h.01M114.9 123.7h.01M105.2 110.6h.01M123.2 120.2h.01M114.6 120.1h.01M125.7 120.6h.01M137.3 125.2h.01M115.6 115.8h.01M106.7 109.2h.01M120.8 120.7h.01M114.6 119.2h.01M129.7 131.0h.01"/>
<path stroke="#229c3e" d="M158.5 81.4h.01M159.8 70.4h.01M160.6 81.8h.01M168.6 87.6h.01M166.2 79.5h.01M162.3 81.8h.01M165.8 85.7h.01M156.0 78.5h.01M179.8 96.0h.01M157.6 78.8h.01M156.6 73.7h.01M161.7 79.9h.01M161.4 74.7h.01M158.0 75.7h.01M156.5 80.7h.01M161.3 76.5h.01M149.6 74.5h.01M153.9 73.1h.01M163.9 81.8h.01M155.9 74.8h.01M157.9 76.0h.01M154.8 69.7h.01M155.2 71.9h.01M155.9 69.2h.01M164.9 79.8h.01M164.7 83.3h.01M157.8 75.6h.01M143.5 68.4h.01M181.5 93.2h.01M159.2 80.3h.01M160.4 85.2h.01M153.4 74.0h.01M152.6 75.2h.01M148.3 71.8h.01M156.5 75.1h.01"/>
<path stroke="#da1b1f" d="M239.8 18.3h.01M242.3 19.7h.01M246.3 20.4h.01M235.6 18.7h.01M236.4 15.6h.01M234.8 14.8h.01M240.6 21.3h.01M249.4 29.7h.01"/>
<path stroke="#f6ac1e" d="M207.3 36.9h.01M209.9 42.1h.01M205.5 43.7h.01M195.8 31.8h.01M202.2 37.9h.01M210.7 50.8h.01M200.4 37.3h.01M210.7 45.8h.01M205.2 44.5h.01M207.4 41.8h.01M202.8 40.6h.01M199.7 39.2h.01M209.3 45.3h.01M207.7 40.2h.01M205.5 43.0h.01M202.9 38.6h.01M202.1 44.1h.01M204.3 38.7h.01M206.8 42.1h.01M202.3 42.1h.01M209.9 47.4h.01M214.7 49.2h.01M206.0 49.5h.01M209.6 45.2h.01M208.5 48.1h.01M207.2 48.4h.01M202.7 39.5h.01M210.6 42.8h.01M209.7 46.6h.01M204.8 44.6h.01M201.2 33.1h.01M196.4 35.2h.01M204.1 39.7h.01M209.9 52.7h.01M211.0 45.3h.01M209.8 47.7h.01"/>
<path stroke="#1996ce" d="M109.4 125.1h.01M131.2 139.7h.01M114.4 129.1h.01M110.1 132.3h.01M99.1 125.3h.01M111.2 128.5h.01M109.8 134.3h.01M105.6 130.2h.01M99.5 126.6h.01M112.6 128.5h.01M94.3 123.7h.01M108.5 130.2h.01M104.8 129.5h.01M121.7 137.1h.01M102.9 123.1h.01M106.1 129.3h.01M112.6 131.8h.01M88.2 120.6h.01M98.3 124.3h.01M102.2 121.1h.01M106.7 122.7h.01M94.3 125.6h.01M115.7 124.8h.01M93.0 119.2h.01M119.7 132.4h.01M116.0 135.5h.01M103.9 125.9h.01M109.4 127.9h.01"/>
<path stroke="#1d88cd" d="M90.8 133.9h.01M87.6 134.0h.01M110.7 139.9h.01M97.4 130.9h.01M112.6 135.4h.01M88.0 127.3h.01M96.8 139.9h.01M87.2 131.9h.01M97.6 138.2h.01M109.3 132.6h.01M93.4 134.4h.01M96.6 139.8h.01M97.6 131.5h.01M85.4 126.5h.01M89.5 134.6h.01M100.4 140.4h.01M83.1 130.3h.01M98.2 132.6h.01M96.2 132.4h.01M100.0 135.6h.01M94.8 135.0h.01M103.0 141.1h.01M113.0 143.7h.01"/>
<path stroke="#3ea636" d="M177.1 84.9h.01M167.2 73.1h.01M175.6 78.0h.01M169.3 68.7h.01M165.8 64.4h.01M164.1 61.9h.01M184.5 81.9h.01M163.7 63.0h.01M168.9 66.7h.01M180.6 81.6h.01M172.0 63.6h.01M173.2 73.4h.01M170.1 80.2h.01M168.5 68.1h.01M171.3 75.1h.01M176.6 74.0h.01M174.0 77.5h.01M164.5 63.6h.01M163.2 68.2h.01M170.7 69.2h.01M174.1 70.8h.01M161.6 67.6h.01M167.2 67.2h.01M165.5 62.4h.01M166.9 73.5h.01M175.9 72.0h.01M165.7 69.5h.01M151.4 58.3h.01M167.3 71.3h.01M168.1 70.7h.01M167.0 68.9h.01M179.3 77.6h.01M164.4 67.6h.01M162.8 63.7h.01M167.4 68.6h.01M167.0 68.3h.01M162.9 62.0h.01M164.7 62.1h.01M166.3 69.2h.01M163.9 66.2h.01M160.0 64.4h.01"/>
<path stroke="#e23b26" d="M229.7 26.9h.01M228.8 27.0h.01M232.8 26.4h.01M224.7 21.2h.01M232.4 29.1h.01M231.5 25.7h.01M228.1 25.9h.01M236.6 23.6h.01M234.5 25.1h.01M224.7 16.9h.01M234.3 27.9h.01M236.1 28.4h.01M230.3 23.0h.01M227.6 16.8h.01M234.2 25.2h.01M232.6 30.1h.01M226.6 19.4h.01M232.8 24.7h.01M227.4 22.2h.01"/>
<path stroke="#253686" d="M71.3 177.5h.01M71.4 178.2h.01M47.5 171.9h.01M51.2 174.1h.01M74.9 183.7h.01M45.5 162.0h.01M57.3 173.0h.01M57.4 176.0h.01M65.6 182.5h.01M76.6 182.8h.01M57.8 172.9h.01M77.3 182.4h.01M54.9 180.3h.01M45.7 173.2h.01M73.0 176.4h.01M52.4 173.5h.01M76.8 188.3h.01M77.8 182.2h.01M53.6 174.9h.01M68.2 179.0h.01M60.0 179.6h.01M49.5 172.7h.01M43.5 169.1h.01M62.1 174.8h.01"/>
<path stroke="#eb6e24" d="M220.1 35.3h.01M221.4 39.0h.01M219.7 33.7h.01M216.7 26.4h.01M215.8 34.5h.01M218.9 38.0h.01M224.9 40.0h.01M221.2 31.5h.01M217.4 27.1h.01M215.0 30.6h.01M223.4 33.1h.01M219.7 34.5h.01M223.3 35.4h.01M218.3 34.2h.01M219.7 34.5h.01M218.1 33.0h.01M217.1 27.8h.01M221.0 34.5h.01M216.2 28.3h.01M212.1 29.4h.01M221.9 36.3h.01M221.6 37.4h.01M216.5 22.3h.01M226.2 37.6h.01M221.9 34.1h.01M212.7 31.9h.01M218.3 30.9h.01M224.2 39.3h.01M217.7 31.9h.01M220.8 33.2h.01M224.1 32.0h.01M220.7 36.7h.01M215.6 29.4h.01M219.2 35.0h.01M214.9 27.1h.01M221.0 35.4h.01M217.5 26.7h.01M216.8 30.6h.01M229.0 40.4h.01M221.8 36.0h.01"/>
<path stroke="#1699c8" d="M106.8 114.5h.01M104.1 121.2h.01M98.9 112.3h.01M118.3 124.6h.01M114.3 124.7h.01M121.3 128.5h.01M119.7 131.8h.01M97.5 113.0h.01M102.5 120.4h.01M107.7 121.0h.01M116.0 121.3h.01M107.5 122.9h.01M117.2 123.5h.01M113.2 119.7h.01M115.4 125.0h.01M112.8 124.1h.01M98.7 114.2h.01M109.2 117.7h.01M132.1 131.2h.01M120.0 127.6h.01M92.6 115.1h.01M125.1 130.2h.01M118.3 126.7h.01M114.5 122.4h.01M107.6 118.7h.01M106.5 115.2h.01M128.3 129.1h.01M106.0 122.6h.01M98.9 118.8h.01M120.9 125.9h.01"/>
<path stroke="#cedf26" d="M185.9 54.4h.01M196.8 61.9h.01M191.5 61.7h.01M186.4 52.4h.01M193.7 60.8h.01M186.5 55.3h.01M184.2 56.5h.01M186.2 55.6h.01M187.6 54.7h.01M189.3 54.6h.01M180.6 50.0h.01M182.9 49.3h.01M184.9 51.6h.01M191.8 60.7h.01M182.9 53.5h.01M201.5 61.0h.01M180.7 48.0h.01M185.5 56.1h.01M180.9 49.5h.01M184.4 57.0h.01M182.5 52.3h.01M187.6 56.0h.01M191.2 58.6h.01M195.6 61.8h.01M187.8 56.3h.01M182.1 55.8h.01M192.5 56.1h.01M182.9 50.1h.01M184.0 50.2h.01M189.2 55.9h.01M196.9 64.5h.01M190.6 51.7h.01M192.9 57.6h.01M189.7 50.5h.01M185.2 49.8h.01M182.0 50.4h.01M194.2 60.1h.01M185.3 52.5h.01M182.8 50.1h.01M178.8 51.2h.01M183.5 53.2h.01M188.5 56.1h.01M187.4 58.1h.01M186.7 55.0h.01M182.8 51.3h.01M181.8 54.3h.01M195.5 60.3h.01M170.7 48.8h.01"/>
<path stroke="#199b45" d="M162.9 98.6h.01M152.9 86.9h.01M151.8 88.0h.01M147.4 85.4h.01M151.4 82.2h.01M140.7 81.2h.01M156.5 91.3h.01M157.9 85.9h.01M143.7 86.4h.01M145.3 80.4h.01M149.6 83.8h.01M149.0 86.1h.01M163.5 93.5h.01M146.4 81.8h.01M150.0 85.8h.01M161.2 85.7h.01M143.5 84.9h.01M147.7 82.9h.01M149.0 85.5h.01M142.6 85.0h.01M156.0 90.7h.01M171.1 103.3h.01M149.4 86.0h.01M137.5 77.0h.01M145.8 85.1h.01M162.8 89.2h.01"/>
<path stroke="#dc1b1f" d="M242.3 19.0h.01M246.2 22.0h.01M241.0 18.6h.01M240.2 21.6h.01M242.2 22.4h.01M238.7 19.9h.01M239.4 16.3h.01M239.7 22.2h.01M237.2 20.4h.01M243.6 20.8h.01M238.1 21.0h.01M240.7 18.8h.01M239.5 19.6h.01"/>
<path stroke="#179a46" d="M142.1 83.4h.01M148.3 88.9h.01M147.1 81.4h.01M142.1 82.3h.01M139.9 87.0h.01M152.0 85.6h.01M147.0 81.9h.01M141.1 77.9h.01M139.7 85.9h.01M148.3 90.8h.01M146.6 81.2h.01M144.8 86.0h.01M156.3 97.1h.01M136.7 83.2h.01M137.5 80.5h.01M158.2 98.2h.01M164.5 95.0h.01M143.7 81.2h.01M146.4 80.4h.01M148.4 87.5h.01M142.1 81.4h.01M158.1 95.7h.01M152.2 88.7h.01M135.6 84.2h.01M149.0 86.5h.01M149.4 84.3h.01M153.0 93.4h.01M153.8 88.7h.01M152.3 90.6h.01M148.1 91.5h.01M147.3 94.2h.01M146.1 87.3h.01M155.6 88.7h.01M141.2 90.0h.01M150.1 85.4h.01"/>
<path stroke="#239d3d" d="M162.0 84.3h.01M162.7 79.5h.01M158.9 73.8h.01M155.8 72.1h.01M149.0 68.1h.01M157.6 73.3h.01M160.6 76.1h.01M168.5 79.1h.01M164.2 79.7h.01M157.0 77.4h.01M160.7 73.8h.01M174.2 87.0h.01M156.6 77.7h.01M153.3 74.2h.01M166.2 80.7h.01M154.5 68.9h.01M151.9 69.9h.01M160.4 80.6h.01M153.5 70.6h.01M157.8 75.3h.01M163.5 79.7h.01M151.3 72.3h.01M165.7 91.4h.01M165.3 78.3h.01M173.3 86.0h.01M153.5 68.0h.01"/>
<path stroke="#32a137" d="M161.9 70.5h.01M165.8 73.0h.01M183.3 87.9h.01M164.8 71.3h.01M171.5 76.3h.01M170.4 69.6h.01M169.4 71.9h.01M171.1 72.8h.01M159.3 65.3h.01M182.9 78.9h.01M163.8 69.0h.01M154.8 62.0h.01M167.5 66.2h.01M169.0 74.9h.01M152.6 65.1h.01M163.0 68.6h.01M169.0 71.8h.01M176.4 83.1h.01M179.1 82.8h.01M164.2 70.9h.01M164.9 69.6h.01M170.0 71.2h.01M156.1 63.0h.01M172.1 76.4h.01M159.7 62.6h.01M166.5 66.3h.01M174.4 80.6h.01M162.3 65.1h.01M167.8 71.5h.01M175.0 75.7h.01M172.0 82.5h.01M164.6 67.1h.01M171.8 77.1h.01M167.4 74.8h.01M160.1 68.2h.01M166.6 68.9h.01"/>
<path stroke="#263a8c" d="M104.9 167.2h.01M101.7 168.6h.01M81.9 156.1h.01M85.2 161.9h.01M83.7 160.0h.01M81.5 159.6h.01M84.7 159.2h.01M74.0 156.0h.01M88.5 157.3h.01M82.8 156.3h.01M85.7 154.8h.01M93.3 156.6h.01M66.3 147.8h.01"/>
<path stroke="#f5d31f" d="M207.0 52.3h.01M195.1 44.5h.01M191.1 46.5h.01M202.2 52.8h.01M191.6 45.0h.01M192.9 45.6h.01M208.1 53.7h.01M191.8 44.4h.01M197.1 50.7h.01M192.1 42.5h.01M199.9 47.3h.01M201.9 51.9h.01M197.2 44.2h.01M186.3 42.0h.01M183.8 40.1h.01M194.7 48.0h.01M191.7 44.9h.01M194.4 49.4h.01M198.1 44.4h.01M202.6 47.0h.01M190.5 36.3h.01M190.4 39.9h.01M196.9 47.0h.01M195.0 46.0h.01M188.0 43.1h.01M194.4 47.6h.01M205.3 53.3h.01M198.6 47.0h.01M191.0 42.6h.01M204.8 49.0h.01M200.0 52.1h.01M195.9 43.2h.01M197.2 50.1h.01M194.5 43.6h.01M201.5 46.9h.01M199.8 49.6h.01"/>
<path stroke="#0a9a6a" d="M122.2 99.0h.01M126.9 100.7h.01M136.3 102.4h.01M131.8 106.6h.01M141.3 107.0h.01M133.1 102.8h.01M136.7 104.6h.01M136.4 105.7h.01M130.3 100.9h.01M132.2 100.7h.01M133.2 105.6h.01M138.5 108.0h.01M140.7 101.6h.01M118.2 94.8h.01M110.0 94.6h.01M142.6 106.9h.01M132.9 103.2h.01M126.1 103.7h.01M137.7 102.6h.01M126.2 99.0h.01M131.8 98.0h.01M147.4 115.0h.01M112.8 98.2h.01M136.0 107.1h.01M110.2 96.1h.01M133.2 99.9h.01M129.2 98.2h.01M117.6 92.8h.01M138.4 104.2h.01"/>
<path stroke="#2266b6" d="M97.1 148.2h.01M84.2 134.6h.01M87.1 142.3h.01M100.0 142.7h.01M103.5 145.1h.01M109.4 147.7h.01M84.6 132.4h.01M105.0 144.5h.01M105.6 144.3h.01M85.8 141.0h.01M100.6 147.6h.01M115.7 149.6h.01M93.9 141.5h.01M98.7 145.0h.01M113.1 148.6h.01M97.6 143.8h.01M108.4 151.0h.01M104.2 147.3h.01M85.2 138.2h.01M106.5 145.3h.01"/>
<path stroke="#1b93d3" d="M97.2 133.8h.01M97.0 134.4h.01M89.3 132.1h.01M115.2 139.2h.01M98.4 131.3h.01M113.5 131.8h.01M92.6 134.2h.01M99.2 130.9h.01M92.6 132.0h.01M105.1 132.9h.01M98.5 132.2h.01M114.3 139.7h.01M94.0 127.5h.01M99.3 134.7h.01M121.3 135.1h.01M98.6 131.9h.01M97.4 127.1h.01M117.1 143.3h.01M89.2 133.3h.01M100.1 128.8h.01M107.5 138.8h.01M106.5 134.1h.01M105.8 133.0h.01M95.7 131.0h.01M99.5 127.1h.01"/>
<path stroke="#253583" d="M71.2 193.3h.01M56.2 185.9h.01M53.0 181.5h.01M50.6 181.5h.01M84.8 195.0h.01M57.0 188.3h.01M69.9 186.9h.01M52.2 182.4h.01M56.3 183.6h.01M52.2 185.0h.01M60.6 182.4h.01M57.3 182.7h.01M68.8 184.1h.01"/>
<path stroke="#253889" d="M79.3 167.7h.01M82.7 175.7h.01M76.6 168.3h.01M56.8 169.6h.01M91.6 169.8h.01M71.3 170.2h.01M53.9 155.6h.01M67.2 167.4h.01M54.8 158.3h.01M58.7 163.4h.01M61.8 159.0h.01M76.3 170.2h.01M67.4 167.0h.01M75.5 170.5h.01M66.3 163.3h.01M68.7 167.1h.01M69.9 160.0h.01M74.8 173.0h.01M57.3 158.1h.01M57.8 162.4h.01M55.4 164.3h.01M65.4 164.1h.01M74.5 172.2h.01M81.7 168.9h.01M53.7 161.6h.01M63.4 161.5h.01"/>
<path stroke="#d51a1e" d="M248.7 19.4h.01M248.1 20.7h.01M245.1 18.3h.01M245.7 19.2h.01M238.9 14.1h.01M249.1 17.3h.01M239.7 12.7h.01M240.5 12.7h.01"/>
<path stroke="#149a49" d="M143.9 87.7h.01M148.8 88.8h.01M143.4 86.4h.01M151.1 92.0h.01M145.1 90.4h.01M143.9 86.3h.01M136.8 91.7h.01M135.4 90.6h.01M151.3 93.3h.01M150.1 94.0h.01M162.2 100.4h.01M140.1 85.7h.01M128.5 80.2h.01M136.7 85.6h.01M139.8 89.5h.01M142.5 85.2h.01M142.5 91.5h.01M142.7 83.8h.01M146.5 90.5h.01M144.8 88.1h.01M132.2 83.3h.01M136.0 80.8h.01M132.4 85.2h.01M151.8 97.2h.01M127.6 80.0h.01M149.7 88.4h.01M147.9 90.5h.01M141.2 89.2h.01M145.1 88.8h.01M141.3 94.9h.01M148.2 93.7h.01M150.3 92.3h.01M138.4 84.7h.01M140.3 86.3h.01M154.5 97.4h.01M147.6 94.6h.01"/>
<path stroke="#ebe921" d="M184.5 50.6h.01M189.6 50.8h.01M194.2 49.6h.01M188.4 49.2h.01M197.0 55.2h.01M200.0 52.1h.01M188.8 52.9h.01M194.6 54.6h.01M196.5 57.2h.01M186.6 45.7h.01M186.2 48.6h.01M183.3 48.6h.01M205.0 54.5h.01M189.4 46.7h.01M199.1 57.7h.01M195.2 55.1h.01M187.7 48.6h.01M189.1 50.6h.01M199.2 54.0h.01M191.8 48.6h.01M194.4 51.9h.01M195.8 54.0h.01M194.9 55.5h.01M190.8 50.1h.01M190.9 55.4h.01M180.2 39.4h.01M193.9 52.3h.01M184.1 48.4h.01M195.9 56.1h.01M188.8 49.4h.01M197.5 50.1h.01M184.0 46.0h.01M187.0 53.7h.01M184.8 40.2h.01M190.2 53.2h.01M191.5 51.5h.01M186.4 48.2h.01M189.6 51.6h.01M187.9 47.0h.01M197.9 54.7h.01"/>
<path stroke="#159bc5" d="M107.3 115.1h.01M114.7 110.8h.01M108.1 121.8h.01M111.2 117.2h.01M113.8 116.1h.01M121.7 122.1h.01M100.4 113.2h.01M108.8 114.1h.01M106.2 114.9h.01M130.1 125.1h.01M110.6 118.8h.01M109.9 118.0h.01M108.1 119.8h.01M107.7 116.1h.01M108.9 118.0h.01M114.2 119.7h.01M98.5 112.5h.01M101.6 116.5h.01M125.5 122.7h.01M105.6 113.1h.01M116.4 119.7h.01M120.6 125.1h.01"/>
<path stroke="#253788" d="M60.1 166.5h.01M64.8 167.3h.01M51.8 167.6h.01M58.0 169.5h.01M51.4 169.9h.01M63.3 168.5h.01M61.3 164.0h.01M71.0 172.1h.01M52.4 160.5h.01M63.0 168.6h.01M57.3 171.7h.01M62.8 170.8h.01M72.8 165.5h.01M50.8 161.1h.01M63.6 162.8h.01M82.9 176.3h.01M67.7 174.2h.01M75.9 173.2h.01M53.1 173.1h.01M76.2 171.6h.01M59.3 169.0h.01"/>
<path stroke="#6fba32" d="M178.6 67.3h.01M173.8 61.4h.01M173.4 68.9h.01M170.2 67.9h.01M170.7 63.2h.01M172.4 66.2h.01M172.2 60.7h.01M182.4 74.4h.01M173.9 63.6h.01M162.8 57.8h.01M181.2 65.4h.01M172.7 63.7h.01M179.3 69.4h.01M176.9 71.7h.01M185.5 69.5h.01M171.7 60.8h.01M174.0 69.0h.01M180.0 65.6h.01M175.4 71.8h.01M172.6 65.4h.01M172.0 70.7h.01M184.1 71.9h.01M181.2 73.5h.01M171.3 64.9h.01M183.9 72.0h.01M175.6 68.1h.01M180.2 74.8h.01"/>
<path stroke="#d8e224" d="M192.1 49.0h.01M191.8 59.8h.01M193.8 51.7h.01M184.8 49.0h.01M186.5 50.2h.01M182.1 53.2h.01M198.5 63.3h.01M191.0 55.9h.01M192.7 52.2h.01M194.4 58.7h.01M193.2 57.8h.01M186.8 53.0h.01M192.0 57.6h.01M199.3 61.5h.01M180.3 43.9h.01M182.0 52.8h.01M179.3 44.8h.01M188.5 50.5h.01M179.2 47.5h.01M189.7 56.8h.01M194.2 61.3h.01M183.9 50.2h.01M190.6 56.4h.01M190.3 49.5h.01M195.2 60.1h.01M186.7 50.9h.01M181.6 44.7h.01M194.1 60.4h.01M182.6 50.3h.01M184.1 48.3h.01M183.8 50.6h.01M193.2 59.1h.01M184.0 52.8h.01M183.3 55.3h.01M177.9 41.1h.01M186.5 49.8h.01M190.9 61.8h.01M190.6 53.7h.01M190.6 54.2h.01M201.9 58.8h.01M182.2 48.0h.01M176.5 44.8h.01M199.8 67.9h.01M182.6 48.6h.01M184.5 47.4h.01M188.7 52.6h.01M188.8 54.4h.01M182.5 52.8h.01M191.7 53.1h.01M188.5 51.4h.01M184.1 48.7h.01"/>
<path stroke="#0b984f" d="M138.3 96.0h.01M130.1 100.3h.01M135.0 92.5h.01M145.4 106.9h.01M124.6 93.6h.01M139.1 97.3h.01M139.1 101.4h.01M133.7 98.9h.01M145.1 97.5h.01M129.2 95.7h.01M137.9 96.2h.01M126.0 92.7h.01M141.7 100.3h.01M134.5 100.4h.01M135.9 96.6h.01M123.4 89.9h.01M129.0 98.6h.01M129.1 95.1h.01M125.3 91.0h.01M129.1 94.9h.01M142.1 104.0h.01M137.8 98.9h.01M154.4 112.2h.01M132.8 99.2h.01M141.7 99.7h.01M129.9 96.3h.01M140.5 99.2h.01M117.0 91.1h.01M153.1 108.5h.01M131.0 93.7h.01M129.6 97.2h.01M141.7 102.7h.01M142.5 98.7h.01M119.3 88.9h.01"/>
<path stroke="#216fbd" d="M107.6 147.5h.01M94.1 138.1h.01M101.1 137.6h.01M86.3 139.1h.01M90.9 140.2h.01M102.6 140.8h.01M99.7 145.0h.01M92.5 135.9h.01M88.9 139.3h.01M107.1 142.0h.01M78.1 137.4h.01M91.8 141.4h.01M87.1 142.7h.01M90.6 141.7h.01M69.0 133.5h.01M103.7 147.3h.01M81.5 135.9h.01M85.8 136.9h.01M119.4 147.5h.01M111.8 150.1h.01M79.7 138.0h.01"/>
<path stroke="#253888" d="M79.2 173.1h.01M53.8 164.3h.01M62.4 168.6h.01M57.0 169.0h.01M67.1 169.0h.01M56.2 163.3h.01M69.4 162.2h.01M72.1 171.6h.01M49.4 163.8h.01M59.2 164.7h.01M66.5 173.8h.01M74.5 168.4h.01M70.7 173.8h.01M54.1 167.9h.01M66.8 169.8h.01M62.8 165.0h.01"/>
<path stroke="#f5dc1f" d="M200.8 53.8h.01M195.1 43.7h.01M200.2 58.7h.01M196.0 50.0h.01M191.6 35.8h.01M204.6 58.2h.01M196.4 38.7h.01M190.1 41.2h.01M196.3 49.1h.01M195.1 51.4h.01M200.9 51.5h.01M194.0 53.1h.01M200.7 51.3h.01M193.7 48.5h.01M204.5 59.0h.01M200.4 54.0h.01M194.2 42.3h.01M195.7 49.5h.01M188.6 45.4h.01M190.7 40.6h.01M188.6 43.7h.01M184.5 37.2h.01M202.7 49.3h.01M198.8 53.4h.01M203.7 51.1h.01M193.6 48.7h.01M190.7 45.8h.01M187.4 41.5h.01M185.4 45.9h.01M195.0 51.7h.01M190.1 45.3h.01M194.2 44.8h.01M200.8 52.4h.01M197.1 42.4h.01M202.6 52.6h.01M191.5 50.0h.01M202.8 55.7h.01M199.9 57.6h.01"/>
<path stroke="#1a9b44" d="M150.9 85.8h.01M161.2 91.5h.01M141.8 77.1h.01M149.0 80.4h.01M153.7 86.4h.01M156.2 89.1h.01M148.8 83.2h.01M140.0 80.0h.01M144.6 79.8h.01M160.0 96.2h.01M148.7 79.3h.01M147.5 83.8h.01M157.6 85.3h.01M143.0 82.7h.01M163.2 90.9h.01M143.3 81.3h.01M151.2 88.8h.01M147.7 79.9h.01M150.6 84.0h.01M153.7 92.0h.01M160.0 94.1h.01M149.1 87.3h.01M153.8 89.5h.01M155.3 85.7h.01M157.6 89.9h.01M151.7 84.4h.01M150.7 89.2h.01M150.5 81.9h.01M157.2 88.5h.01M149.7 78.4h.01M157.1 89.2h.01M146.3 80.9h.01"/>
<path stroke="#299e38" d="M164.7 67.8h.01M167.4 72.4h.01M163.8 70.4h.01M163.2 72.3h.01M169.8 78.8h.01M171.9 76.9h.01M173.0 82.4h.01M152.7 62.1h.01M167.0 71.4h.01M169.9 80.8h.01M163.4 71.9h.01M168.7 72.6h.01M170.5 72.0h.01M165.8 75.7h.01M157.7 68.3h.01M162.0 72.9h.01M173.2 75.0h.01M162.1 71.5h.01M165.4 70.6h.01M163.2 70.9h.01M163.2 73.6h.01M161.5 67.2h.01M152.7 61.2h.01M165.1 67.0h.01M169.1 72.8h.01M167.3 74.9h.01M153.5 65.0h.01M167.7 73.2h.01M163.7 68.1h.01M154.8 65.4h.01M170.2 73.3h.01M165.7 73.6h.01M172.7 78.2h.01M164.0 72.6h.01M162.5 62.7h.01M168.3 76.7h.01M167.8 75.8h.01"/>
<path stroke="#1f9c40" d="M160.3 89.3h.01M149.1 78.2h.01M149.4 75.8h.01M148.0 73.3h.01M151.6 77.6h.01M146.3 77.0h.01M153.1 79.7h.01M150.1 78.1h.01M150.4 77.4h.01M161.0 83.8h.01M158.1 82.2h.01M140.3 72.6h.01M158.8 84.7h.01M156.2 79.9h.01M155.5 80.8h.01M155.1 77.8h.01M156.8 85.0h.01M143.3 74.4h.01M154.3 76.7h.01M143.1 77.2h.01M155.8 78.9h.01M162.8 86.1h.01M154.8 79.7h.01M157.2 74.4h.01M142.1 76.3h.01M165.6 82.3h.01M165.8 85.4h.01M165.5 91.9h.01M141.2 66.6h.01M150.7 73.1h.01M165.5 86.9h.01M150.7 79.1h.01M157.4 84.7h.01"/>
<path stroke="#1a95d0" d="M95.6 127.0h.01M117.8 133.5h.01M89.0 123.4h.01M104.3 126.3h.01M96.6 126.9h.01M87.1 120.9h.01M103.7 128.1h.01M100.6 128.2h.01M115.8 130.7h.01M101.9 126.5h.01M103.6 128.1h.01M106.3 127.0h.01M99.3 127.3h.01M106.1 132.8h.01M100.6 128.5h.01M119.6 134.5h.01M105.1 131.1h.01M119.5 138.2h.01M94.0 124.1h.01M102.8 127.3h.01M115.0 131.1h.01M108.1 127.3h.01M103.1 127.3h.01M113.2 133.5h.01M115.3 134.0h.01"/>
<path stroke="#e13424" d="M240.0 25.6h.01M234.9 22.9h.01M238.9 27.4h.01M237.4 34.2h.01M238.2 33.7h.01M235.7 24.7h.01M228.5 21.1h.01M234.8 25.0h.01M228.0 27.2h.01M238.7 28.0h.01M234.9 20.2h.01M231.0 23.4h.01M234.1 24.9h.01M235.2 24.1h.01"/>
<path stroke="#f7b31e" d="M203.3 42.3h.01M214.0 43.3h.01M216.3 54.1h.01M209.9 52.9h.01M203.9 42.1h.01M199.9 43.6h.01M202.8 45.9h.01M199.9 45.4h.01M205.9 49.3h.01M201.3 40.5h.01M199.4 39.7h.01M197.4 42.1h.01M202.7 46.1h.01M199.5 41.1h.01M200.3 44.1h.01M202.4 40.8h.01M204.3 48.4h.01M199.1 44.5h.01M194.7 38.9h.01M209.0 45.9h.01M202.9 41.9h.01M205.4 41.7h.01M202.6 40.7h.01M201.7 39.6h.01M194.2 34.5h.01M192.1 38.7h.01M202.7 44.2h.01M200.1 43.1h.01M208.8 51.1h.01M204.8 45.8h.01M203.5 48.1h.01M194.7 35.2h.01M206.7 37.3h.01M203.6 41.0h.01M206.9 41.0h.01"/>
<path stroke="#243482" d="M71.9 190.7h.01M43.3 186.0h.01M44.4 181.2h.01M61.3 194.9h.01M61.7 190.9h.01M51.2 188.2h.01M44.9 180.9h.01M45.2 181.0h.01M56.0 191.7h.01M52.1 186.1h.01M66.2 190.0h.01M53.1 189.3h.01M67.2 190.9h.01M46.0 184.5h.01M58.6 189.3h.01M46.6 180.0h.01"/>
<path stroke="#253585" d="M53.3 178.6h.01M56.4 184.4h.01M46.6 168.9h.01M62.3 181.8h.01M46.4 173.9h.01M69.1 181.0h.01M57.4 176.6h.01M51.8 178.3h.01M44.5 172.7h.01"/>
<path stroke="#129cbc" d="M118.6 116.8h.01M117.0 116.3h.01M137.7 128.6h.01M107.9 112.7h.01M108.6 109.2h.01M128.3 121.0h.01M116.4 119.1h.01M109.2 112.4h.01M109.0 112.4h.01M120.2 118.9h.01M106.3 111.0h.01M103.8 112.9h.01M117.7 116.7h.01M129.8 119.1h.01M136.6 126.1h.01M116.6 114.5h.01M107.7 113.9h.01M109.9 113.8h.01M114.5 116.2h.01M117.3 112.7h.01M112.7 112.4h.01M118.0 122.5h.01M122.6 119.3h.01M109.2 112.7h.01M113.2 111.2h.01"/>
<path stroke="#1897cb" d="M102.4 124.1h.01M108.4 123.7h.01M99.1 122.4h.01M125.1 131.1h.01M102.9 124.0h.01M119.5 127.1h.01M102.9 121.2h.01M129.4 135.4h.01M104.8 122.9h.01M106.7 130.0h.01M117.0 125.6h.01M97.1 118.5h.01M118.0 126.7h.01M117.3 129.4h.01M127.5 132.0h.01M113.8 124.4h.01M119.2 134.8h.01M104.5 122.5h.01M105.6 126.5h.01M120.1 126.8h.01M96.7 119.1h.01M115.9 122.2h.01M113.4 127.9h.01M114.8 125.4h.01"/>
<path stroke="#e01e20" d="M236.6 22.9h.01M238.9 26.4h.01M238.2 24.2h.01M236.7 19.7h.01M233.5 20.3h.01M243.6 21.0h.01M238.0 20.7h.01M240.7 25.4h.01M242.2 26.5h.01M238.9 17.9h.01"/>
<path stroke="#d71b1f" d="M243.6 21.1h.01M244.5 18.8h.01M246.0 21.7h.01"/>
<path stroke="#0a9960" d="M125.0 99.4h.01M140.7 106.3h.01M121.2 100.6h.01M122.1 101.5h.01M138.4 107.0h.01M123.0 96.8h.01M155.4 113.8h.01M137.4 101.7h.01M132.4 99.9h.01M123.5 95.2h.01M129.4 100.0h.01M125.8 98.8h.01M132.4 104.8h.01M127.6 96.5h.01M129.5 96.8h.01M133.8 96.6h.01M137.0 101.5h.01M130.5 98.9h.01M130.2 97.9h.01M133.6 100.8h.01M134.8 97.0h.01M124.6 96.4h.01M136.6 108.9h.01M124.6 100.4h.01M116.5 96.4h.01M126.9 96.9h.01M129.8 96.9h.01M136.9 99.6h.01M133.5 100.1h.01M134.6 107.0h.01M120.6 96.8h.01M121.8 100.8h.01M143.9 109.7h.01M143.2 101.1h.01M119.7 94.6h.01M130.1 98.9h.01M141.0 107.5h.01"/>
<path stroke="#2359aa" d="M96.5 146.8h.01M83.8 136.0h.01M88.2 140.1h.01M66.5 137.5h.01M79.9 139.6h.01M85.4 140.8h.01M90.6 145.0h.01M92.5 140.1h.01M104.0 151.8h.01M86.2 138.7h.01M90.9 147.4h.01M67.8 135.1h.01M91.3 140.0h.01"/>
<path stroke="#243280" d="M58.3 201.8h.01M54.2 194.2h.01M47.5 189.9h.01M60.3 194.9h.01M54.8 195.5h.01M44.7 191.8h.01M46.4 191.0h.01"/>
<path stroke="#253685" d="M48.0 168.9h.01M60.2 182.0h.01M43.5 171.7h.01M47.5 172.3h.01M59.0 179.0h.01M56.7 177.9h.01M66.9 182.2h.01M60.1 181.6h.01M62.9 177.5h.01M55.9 174.2h.01"/>
<path stroke="#bbd829" d="M187.3 59.7h.01M185.1 56.3h.01M191.8 61.1h.01M178.6 54.2h.01M180.6 51.3h.01M184.8 65.7h.01M188.2 55.4h.01M188.3 53.7h.01M182.5 51.8h.01M187.9 56.6h.01M181.4 57.2h.01M191.3 59.1h.01M180.5 50.2h.01M186.2 55.9h.01M177.0 46.1h.01M178.3 52.4h.01M193.9 66.2h.01M183.2 53.8h.01M184.1 58.2h.01M179.4 51.6h.01M191.5 60.4h.01M187.9 60.5h.01M191.1 57.0h.01M191.3 62.9h.01M188.5 54.2h.01M183.5 53.3h.01M182.5 56.0h.01M192.1 64.3h.01M195.1 68.6h.01M183.3 56.2h.01M179.4 52.2h.01M178.9 51.1h.01M188.9 64.5h.01M194.1 57.3h.01M185.7 57.1h.01M189.7 63.4h.01M180.2 55.2h.01M187.2 59.1h.01M194.7 72.0h.01M184.2 64.6h.01M181.9 53.4h.01M188.7 59.5h.01M180.8 60.1h.01M192.6 65.8h.01M179.8 53.4h.01M178.8 53.8h.01M184.8 54.0h.01M180.7 54.2h.01M181.4 55.3h.01M176.9 49.7h.01"/>
<path stroke="#94c92f" d="M174.8 62.0h.01M186.4 64.9h.01M187.1 67.2h.01M178.3 62.5h.01M176.7 61.8h.01M179.9 58.5h.01M173.9 64.9h.01M176.7 64.0h.01M176.1 59.2h.01M170.3 46.4h.01M177.6 62.3h.01M185.5 68.6h.01M177.9 62.1h.01M187.1 66.0h.01M181.3 69.4h.01M186.3 67.9h.01M183.3 67.7h.01M181.3 56.4h.01M183.9 66.3h.01M185.2 73.8h.01M178.2 62.4h.01M190.2 67.7h.01M182.0 62.8h.01M175.3 59.8h.01M182.7 63.4h.01M179.6 60.0h.01M181.2 63.9h.01M179.8 65.8h.01M178.1 63.7h.01M172.7 52.0h.01M187.7 63.7h.01M168.9 64.0h.01M187.2 61.7h.01M187.7 71.4h.01M179.1 60.9h.01M169.5 58.0h.01M181.0 59.5h.01M180.8 62.1h.01M182.5 63.5h.01M187.5 63.1h.01M185.9 65.4h.01"/>
<path stroke="#0a9c7f" d="M124.0 105.5h.01M130.8 104.6h.01M127.3 104.7h.01M136.3 111.0h.01M116.3 101.3h.01M129.9 109.9h.01M126.6 104.3h.01M128.4 105.9h.01M128.3 107.5h.01M115.8 103.3h.01M139.0 112.9h.01M129.1 107.2h.01M114.1 101.4h.01M142.1 117.7h.01M124.3 103.8h.01M137.3 113.2h.01M131.1 108.7h.01M123.3 107.9h.01M126.3 111.9h.01M121.3 104.7h.01M124.4 102.9h.01M125.9 104.8h.01M129.9 106.2h.01M119.4 103.2h.01M123.5 104.0h.01M125.1 101.8h.01M120.4 101.6h.01"/>
<path stroke="#9fce2d" d="M175.9 56.9h.01M179.4 66.8h.01M165.4 50.6h.01M184.2 62.4h.01M172.3 52.5h.01M187.7 65.5h.01M175.8 62.4h.01M176.5 53.2h.01M189.9 66.8h.01M175.0 56.5h.01M177.9 62.6h.01M176.7 62.8h.01M177.9 56.5h.01M181.7 60.7h.01M181.3 57.5h.01M167.7 55.6h.01M173.4 57.9h.01M176.0 56.7h.01M178.1 66.2h.01M182.0 56.7h.01M188.5 71.8h.01M172.1 54.2h.01M177.9 56.3h.01M188.0 60.4h.01M177.4 57.2h.01M185.9 54.6h.01M181.1 62.0h.01M180.7 55.1h.01M177.6 55.7h.01M194.0 75.4h.01M175.0 58.8h.01M176.1 52.7h.01M190.0 66.6h.01M172.2 52.2h.01"/>
<path stroke="#1b94d1" d="M104.5 132.3h.01M110.5 134.3h.01M110.4 130.8h.01M112.8 133.0h.01M101.3 127.4h.01M96.2 128.7h.01M111.8 133.4h.01M91.6 127.1h.01M107.6 131.3h.01M96.5 133.5h.01M100.0 128.2h.01M89.1 132.5h.01M107.4 131.3h.01M120.5 136.3h.01M82.9 126.3h.01M96.4 131.1h.01M110.2 133.3h.01M93.5 123.1h.01M97.1 129.3h.01M105.5 135.4h.01M109.9 134.9h.01M103.0 131.2h.01"/>
<path stroke="#0f994c" d="M142.7 95.6h.01M138.1 93.3h.01M141.4 98.1h.01M133.9 87.8h.01M131.1 94.1h.01M134.4 95.2h.01M139.4 90.0h.01M144.4 96.0h.01M133.1 92.1h.01M145.2 94.0h.01M129.0 87.9h.01M142.5 98.4h.01M152.8 100.4h.01M136.2 93.0h.01M136.1 91.6h.01M146.9 107.2h.01M159.3 102.3h.01M142.0 95.8h.01M141.2 93.8h.01M146.6 101.2h.01M127.8 83.1h.01M133.6 91.0h.01M151.8 100.3h.01M143.3 93.4h.01M126.8 92.5h.01M135.8 94.6h.01M142.7 90.5h.01M141.2 85.1h.01M128.5 88.2h.01M136.7 95.0h.01M133.1 93.3h.01M132.2 90.6h.01"/>
<path stroke="#d21a1e" d="M245.7 19.8h.01M251.0 27.7h.01M246.7 18.5h.01M240.2 16.4h.01M247.6 15.2h.01"/>
<path stroke="#ea6925" d="M217.8 31.7h.01M218.3 30.0h.01M218.7 30.6h.01M219.2 25.5h.01M218.9 27.6h.01M220.6 29.2h.01M225.0 36.5h.01M230.5 42.5h.01M225.0 37.9h.01M227.1 31.8h.01M220.8 30.9h.01M218.7 33.4h.01M211.5 29.0h.01M222.0 30.9h.01M227.5 35.2h.01M220.1 38.5h.01M212.7 23.0h.01M216.6 29.2h.01M218.5 32.6h.01M228.0 33.5h.01M220.1 24.0h.01M216.6 26.7h.01M226.3 36.8h.01M216.1 31.9h.01M211.6 24.0h.01M226.1 34.5h.01M220.1 26.3h.01"/>
<path stroke="#1896cd" d="M119.0 132.5h.01M106.6 124.8h.01M112.5 127.6h.01M118.0 132.8h.01M120.9 136.0h.01M103.3 125.9h.01M107.3 123.6h.01M98.9 124.2h.01M104.0 120.5h.01M94.2 125.1h.01M108.0 128.0h.01M101.4 118.8h.01M118.5 126.5h.01M101.4 122.6h.01M106.3 124.4h.01M102.4 125.7h.01M113.1 130.0h.01M95.1 122.9h.01"/>
<path stroke="#159ac7" d="M121.6 133.3h.01M117.0 121.9h.01M109.2 120.3h.01M111.9 115.9h.01M119.5 121.1h.01M113.4 121.2h.01M108.9 118.6h.01M119.6 117.4h.01M108.7 122.3h.01M127.5 127.1h.01M126.8 130.1h.01M115.2 122.6h.01M125.9 132.7h.01M96.8 114.6h.01M109.5 122.6h.01M115.9 123.6h.01M115.9 119.4h.01M116.0 123.0h.01M118.1 123.9h.01M120.7 121.5h.01M116.9 121.0h.01M111.6 117.6h.01M132.1 129.5h.01M107.8 120.9h.01M130.8 130.8h.01M117.5 117.7h.01M119.8 128.1h.01M101.1 110.6h.01M107.0 119.1h.01M116.5 117.4h.01"/>
<path stroke="#11994b" d="M140.2 93.6h.01M144.9 91.2h.01M148.2 98.4h.01M122.2 86.2h.01M140.7 88.5h.01M134.3 89.2h.01M146.8 90.4h.01M156.8 103.6h.01M136.0 96.1h.01M142.2 91.1h.01M148.1 97.0h.01M142.8 95.8h.01M144.8 96.8h.01M149.6 91.8h.01M139.7 90.5h.01M144.6 94.9h.01M147.9 99.9h.01M138.6 94.7h.01M138.2 91.4h.01M146.6 93.5h.01M145.5 95.6h.01M137.1 88.4h.01M135.7 84.9h.01"/>
<path stroke="#1c91d3" d="M92.3 134.4h.01M122.4 145.3h.01M111.1 142.1h.01M97.9 135.4h.01M109.7 140.1h.01M93.9 132.2h.01M110.9 135.7h.01M89.4 134.5h.01M81.1 128.8h.01M122.3 137.0h.01M112.6 136.6h.01M95.6 131.0h.01M100.6 131.3h.01M110.6 136.4h.01M107.1 136.7h.01M97.7 135.0h.01M105.2 138.2h.01M113.2 132.0h.01"/>
<path stroke="#243380" d="M43.2 190.0h.01M52.9 195.0h.01M67.1 201.3h.01M59.8 196.2h.01M49.6 189.8h.01M54.8 196.5h.01M46.2 187.5h.01"/>
<path stroke="#1f80c8" d="M90.9 137.7h.01M100.2 137.0h.01M108.7 147.8h.01M87.6 134.3h.01M96.2 138.2h.01M109.5 141.0h.01M106.4 135.8h.01M103.9 140.6h.01M112.8 142.6h.01M116.9 144.7h.01M90.4 132.0h.01M89.1 135.4h.01M78.9 135.5h.01M106.6 141.8h.01M101.3 137.0h.01M102.9 141.4h.01M93.8 134.2h.01M109.9 143.4h.01M104.0 137.3h.01M120.8 146.7h.01M89.1 134.9h.01M110.1 140.8h.01"/>
<path stroke="#e3512a" d="M225.2 29.6h.01M221.3 21.6h.01M221.5 23.8h.01M230.5 31.0h.01M232.1 33.1h.01M233.8 31.5h.01M223.3 24.9h.01M228.0 28.5h.01M233.3 30.3h.01M226.3 26.4h.01M223.3 20.5h.01M223.4 21.6h.01M229.0 27.6h.01M227.3 25.7h.01M232.2 29.5h.01M230.6 32.9h.01M229.5 28.5h.01"/>
<path stroke="#263e92" d="M92.1 151.0h.01M81.1 141.6h.01M79.5 139.7h.01M96.3 156.1h.01M100.7 147.8h.01M95.5 153.3h.01M73.5 145.6h.01M70.8 140.7h.01M76.8 140.1h.01"/>
<path stroke="#ce191d" d="M248.4 17.9h.01M250.9 17.2h.01"/>
<path stroke="#25398c" d="M81.3 161.2h.01M60.7 158.1h.01M96.8 164.2h.01M76.0 155.7h.01M86.6 160.1h.01M95.2 163.3h.01M82.0 159.8h.01M76.5 154.7h.01M86.0 164.1h.01M67.9 153.6h.01"/>
<path stroke="#e12d23" d="M229.6 19.3h.01M232.2 23.9h.01M239.0 26.9h.01M234.6 24.8h.01M232.3 25.4h.01M230.8 21.7h.01M235.5 30.3h.01M236.3 28.8h.01M238.8 26.6h.01M237.3 24.0h.01"/>
<path stroke="#253584" d="M70.6 180.4h.01M77.4 184.7h.01M56.6 185.0h.01M76.6 188.0h.01M59.0 187.6h.01M71.3 183.0h.01M57.7 180.0h.01M65.9 183.6h.01M57.3 184.0h.01M51.9 173.9h.01"/>
<path stroke="#de1c20" d="M232.6 14.6h.01M238.0 23.3h.01M236.5 18.8h.01M237.6 19.9h.01M244.8 24.5h.01M240.2 22.3h.01M243.6 20.7h.01"/>
<path stroke="#cb191d" d="M249.1 13.9h.01"/>
</g>
<path d="M42.0 27.0H289.0" stroke="#636363" stroke-width="1.05" stroke-dasharray="5.5 4.34" fill="none"/>
<path d="M345.1 28.2C348.1 28.6 356.4 29.3 363.3 30.5C370.2 31.7 378.9 33.5 386.7 35.2C394.5 36.9 402.2 38.6 410.0 40.5C417.8 42.4 427.5 45.1 433.3 46.8C439.1 48.5 441.5 49.4 445.0 50.8C448.5 52.2 450.1 52.8 454.3 55.0C458.5 57.2 464.7 60.5 470.0 64.0C475.3 67.5 481.0 71.7 486.0 76.0C491.0 80.3 495.2 84.8 500.0 90.0C504.8 95.2 510.3 101.2 515.0 107.0C519.7 112.8 523.8 118.7 528.0 125.0C532.2 131.3 536.3 138.2 540.0 145.0C543.7 151.8 547.3 159.8 550.0 166.0C552.7 172.2 554.6 176.7 556.0 182.0C557.4 187.3 557.6 191.3 558.1 198.0C558.6 204.7 558.5 215.4 558.7 222.0C558.9 228.6 559.4 234.8 559.5 237.3L344.7 237.3L344.7 28.2Z" fill="#d1d1d1"/>
<path d="M453.0 55.3C452.8 53.8 454.0 52.2 455.2 51.2C456.4 50.2 458.1 49.6 460.0 49.5C461.9 49.4 463.4 49.6 466.7 50.5C470.0 51.4 475.6 53.2 480.0 55.1C484.4 57.0 488.9 59.3 493.3 62.1C497.8 64.9 502.2 68.5 506.7 71.9C511.1 75.3 515.6 78.6 520.0 82.6C524.4 86.5 530.2 92.4 533.3 95.6C536.4 98.8 536.7 98.9 538.7 101.5C540.7 104.1 543.1 107.4 545.3 111.3C547.5 115.2 550.0 120.2 552.0 124.7C554.0 129.2 555.9 133.6 557.3 138.0C558.7 142.4 559.8 147.4 560.5 151.3C561.2 155.2 561.4 158.2 561.3 161.5C561.2 164.8 560.6 167.9 560.0 171.3C559.4 174.7 558.7 179.0 557.9 182.0C557.1 185.0 556.2 187.9 555.2 189.5C554.2 191.1 553.2 191.7 552.0 191.3C550.8 190.9 549.3 189.3 548.0 187.3C546.7 185.3 545.3 182.4 544.0 179.3C542.7 176.2 541.3 171.8 540.0 168.7C538.7 165.6 537.3 163.6 536.0 160.7C534.7 157.8 533.8 155.1 532.0 151.3C530.2 147.5 527.8 142.4 525.3 138.0C522.8 133.6 520.4 129.2 517.3 124.7C514.2 120.2 510.0 115.3 506.7 111.3C503.4 107.3 500.6 104.3 497.3 100.7C494.0 97.1 489.5 92.8 486.7 89.6C483.9 86.4 483.7 84.9 480.5 81.5C477.3 78.1 471.3 72.8 467.3 69.3C463.3 65.8 459.0 62.5 456.6 60.2C454.2 57.9 453.2 56.8 453.0 55.3Z" fill="#8ccbf5" stroke="#1583cc" stroke-width="1.1"/>
<path d="M502.5 82.2C503.6 82.0 504.9 82.9 507.0 84.2C509.1 85.5 511.8 87.2 515.0 90.0C518.2 92.8 523.1 97.2 526.5 100.7C529.9 104.2 532.4 107.3 535.5 111.3C538.6 115.3 542.5 120.2 545.3 124.7C548.0 129.2 550.2 133.6 552.0 138.0C553.8 142.4 555.1 148.0 556.0 151.3C556.9 154.6 557.3 155.6 557.3 158.0C557.3 160.4 556.8 164.0 556.0 166.0C555.2 168.0 553.8 170.2 552.5 170.0C551.2 169.8 549.4 166.7 548.0 164.5C546.6 162.3 545.5 159.2 544.3 157.0C543.1 154.8 542.2 153.0 541.0 151.0C539.8 149.0 538.5 147.2 537.0 145.0C535.5 142.8 534.2 141.4 532.0 138.0C529.8 134.6 527.1 129.2 524.0 124.7C520.9 120.2 516.5 115.8 513.5 111.3C510.5 106.8 507.9 101.5 505.8 98.0C503.8 94.5 502.1 92.1 501.2 90.0C500.3 87.9 500.0 86.5 500.2 85.2C500.4 83.9 501.4 82.4 502.5 82.2Z" fill="#0a92e0" stroke="#1088d4" stroke-width="0.6"/>
<path d="M344.7 111.1H591.3" stroke="#3c3c3c" stroke-opacity=".88" stroke-width="1.1" stroke-dasharray="5.5 4.34" fill="none"/>
<path d="M54.35 237.3v-2.4M54.35 1.7v2.4M66.70 237.3v-2.4M66.70 1.7v2.4M79.05 237.3v-2.4M79.05 1.7v2.4M103.75 237.3v-2.4M103.75 1.7v2.4M116.10 237.3v-2.4M116.10 1.7v2.4M128.45 237.3v-2.4M128.45 1.7v2.4M153.15 237.3v-2.4M153.15 1.7v2.4M165.50 237.3v-2.4M165.50 1.7v2.4M177.85 237.3v-2.4M177.85 1.7v2.4M202.55 237.3v-2.4M202.55 1.7v2.4M214.90 237.3v-2.4M214.90 1.7v2.4M227.25 237.3v-2.4M227.25 1.7v2.4M251.95 237.3v-2.4M251.95 1.7v2.4M264.30 237.3v-2.4M264.30 1.7v2.4M276.65 237.3v-2.4M276.65 1.7v2.4M91.40 237.3v-4.8M91.40 1.7v4.8M140.80 237.3v-4.8M140.80 1.7v4.8M190.20 237.3v-4.8M190.20 1.7v4.8M239.60 237.3v-4.8M239.60 1.7v4.8M42.0 233.05h2.4M289.0 233.05h-2.4M42.0 227.16h2.4M289.0 227.16h-2.4M42.0 221.27h2.4M289.0 221.27h-2.4M42.0 215.38h2.4M289.0 215.38h-2.4M42.0 209.50h2.4M289.0 209.50h-2.4M42.0 197.72h2.4M289.0 197.72h-2.4M42.0 191.84h2.4M289.0 191.84h-2.4M42.0 185.95h2.4M289.0 185.95h-2.4M42.0 180.06h2.4M289.0 180.06h-2.4M42.0 174.18h2.4M289.0 174.18h-2.4M42.0 168.29h2.4M289.0 168.29h-2.4M42.0 162.40h2.4M289.0 162.40h-2.4M42.0 156.51h2.4M289.0 156.51h-2.4M42.0 150.63h2.4M289.0 150.63h-2.4M42.0 138.85h2.4M289.0 138.85h-2.4M42.0 132.97h2.4M289.0 132.97h-2.4M42.0 127.08h2.4M289.0 127.08h-2.4M42.0 121.19h2.4M289.0 121.19h-2.4M42.0 115.31h2.4M289.0 115.31h-2.4M42.0 109.42h2.4M289.0 109.42h-2.4M42.0 103.53h2.4M289.0 103.53h-2.4M42.0 97.64h2.4M289.0 97.64h-2.4M42.0 91.76h2.4M289.0 91.76h-2.4M42.0 79.98h2.4M289.0 79.98h-2.4M42.0 74.10h2.4M289.0 74.10h-2.4M42.0 68.21h2.4M289.0 68.21h-2.4M42.0 62.32h2.4M289.0 62.32h-2.4M42.0 56.43h2.4M289.0 56.43h-2.4M42.0 50.55h2.4M289.0 50.55h-2.4M42.0 44.66h2.4M289.0 44.66h-2.4M42.0 38.77h2.4M289.0 38.77h-2.4M42.0 32.89h2.4M289.0 32.89h-2.4M42.0 21.11h2.4M289.0 21.11h-2.4M42.0 15.23h2.4M289.0 15.23h-2.4M42.0 9.34h2.4M289.0 9.34h-2.4M42.0 3.45h2.4M289.0 3.45h-2.4M42.0 27.00h4.8M289.0 27.00h-4.8M42.0 85.87h4.8M289.0 85.87h-4.8M42.0 144.74h4.8M289.0 144.74h-4.8M42.0 203.61h4.8M289.0 203.61h-4.8" stroke="#414141" stroke-width="1.0" fill="none"/>
<rect x="42.0" y="1.7" width="247.00" height="235.60" fill="none" stroke="#414141" stroke-width="1.1"/>
<path d="M357.03 237.3v-2.4M357.03 1.7v2.4M369.36 237.3v-2.4M369.36 1.7v2.4M381.69 237.3v-2.4M381.69 1.7v2.4M406.35 237.3v-2.4M406.35 1.7v2.4M418.68 237.3v-2.4M418.68 1.7v2.4M431.01 237.3v-2.4M431.01 1.7v2.4M455.67 237.3v-2.4M455.67 1.7v2.4M468.00 237.3v-2.4M468.00 1.7v2.4M480.33 237.3v-2.4M480.33 1.7v2.4M504.99 237.3v-2.4M504.99 1.7v2.4M517.32 237.3v-2.4M517.32 1.7v2.4M529.65 237.3v-2.4M529.65 1.7v2.4M554.31 237.3v-2.4M554.31 1.7v2.4M566.64 237.3v-2.4M566.64 1.7v2.4M578.97 237.3v-2.4M578.97 1.7v2.4M394.02 237.3v-4.8M394.02 1.7v4.8M443.34 237.3v-4.8M443.34 1.7v4.8M492.66 237.3v-4.8M492.66 1.7v4.8M541.98 237.3v-4.8M541.98 1.7v4.8M344.7 10.18h2.4M591.3 10.18h-2.4M344.7 18.59h2.4M591.3 18.59h-2.4M344.7 35.41h2.4M591.3 35.41h-2.4M344.7 43.82h2.4M591.3 43.82h-2.4M344.7 52.24h2.4M591.3 52.24h-2.4M344.7 60.65h2.4M591.3 60.65h-2.4M344.7 77.47h2.4M591.3 77.47h-2.4M344.7 85.88h2.4M591.3 85.88h-2.4M344.7 94.30h2.4M591.3 94.30h-2.4M344.7 102.71h2.4M591.3 102.71h-2.4M344.7 119.53h2.4M591.3 119.53h-2.4M344.7 127.94h2.4M591.3 127.94h-2.4M344.7 136.36h2.4M591.3 136.36h-2.4M344.7 144.77h2.4M591.3 144.77h-2.4M344.7 161.59h2.4M591.3 161.59h-2.4M344.7 170.00h2.4M591.3 170.00h-2.4M344.7 178.42h2.4M591.3 178.42h-2.4M344.7 186.83h2.4M591.3 186.83h-2.4M344.7 203.65h2.4M591.3 203.65h-2.4M344.7 212.06h2.4M591.3 212.06h-2.4M344.7 220.48h2.4M591.3 220.48h-2.4M344.7 228.89h2.4M591.3 228.89h-2.4M344.7 27.00h4.8M591.3 27.00h-4.8M344.7 69.06h4.8M591.3 69.06h-4.8M344.7 111.12h4.8M591.3 111.12h-4.8M344.7 153.18h4.8M591.3 153.18h-4.8M344.7 195.24h4.8M591.3 195.24h-4.8" stroke="#414141" stroke-width="1.0" fill="none"/>
<rect x="344.7" y="1.7" width="246.60" height="235.60" fill="none" stroke="#414141" stroke-width="1.1"/>
<g font-family="Liberation Sans, Arial, Helvetica, sans-serif" font-size="10.3" fill="#000">
<text x="42.0" y="250.6" text-anchor="middle">0.0</text>
<text x="344.7" y="250.6" text-anchor="middle">0.0</text>
<text x="91.4" y="250.6" text-anchor="middle">0.2</text>
<text x="394.0" y="250.6" text-anchor="middle">0.2</text>
<text x="140.8" y="250.6" text-anchor="middle">0.4</text>
<text x="443.3" y="250.6" text-anchor="middle">0.4</text>
<text x="190.2" y="250.6" text-anchor="middle">0.6</text>
<text x="492.7" y="250.6" text-anchor="middle">0.6</text>
<text x="239.6" y="250.6" text-anchor="middle">0.8</text>
<text x="542.0" y="250.6" text-anchor="middle">0.8</text>
<text x="290.2" y="250.6" text-anchor="middle">1.0</text>
<text x="591.7" y="250.6" text-anchor="middle">1.0</text>
<text x="36.6" y="30.8" text-anchor="end">0.0</text>
<text x="36.6" y="89.7" text-anchor="end">-0.1</text>
<text x="36.6" y="148.5" text-anchor="end">-0.2</text>
<text x="36.6" y="207.4" text-anchor="end">-0.3</text>
<text x="338.8" y="30.8" text-anchor="end">0.0</text>
<text x="338.8" y="72.9" text-anchor="end">-0.5</text>
<text x="338.8" y="114.9" text-anchor="end">-1.0</text>
<text x="338.8" y="157.0" text-anchor="end">-1.5</text>
<text x="338.8" y="199.0" text-anchor="end">-2.0</text>
<text x="338.8" y="239.9" text-anchor="end">-2.5</text>
</g>
<text x="160" y="266.6" font-family="Liberation Serif, Times New Roman, serif" font-size="14.8" fill="#000">Ω<tspan font-family="Liberation Sans, Arial, Helvetica, sans-serif" font-size="10.3" dy="3.6">Λ</tspan></text>
<text x="462.5" y="266.6" font-family="Liberation Serif, Times New Roman, serif" font-size="14.8" fill="#000">Ω<tspan font-family="Liberation Sans, Arial, Helvetica, sans-serif" font-size="10.3" dy="3.6">Λ</tspan></text>
<text transform="translate(10 131.6) rotate(-90)" font-family="Liberation Serif, Times New Roman, serif" font-size="14.4" fill="#000">Ω<tspan font-family="Liberation Sans, Arial, Helvetica, sans-serif" font-size="10.3" dy="3.3" dx="0.9">K</tspan></text>
<text transform="translate(310.5 127.9) rotate(-90)" font-family="Liberation Serif, Times New Roman, serif" font-size="16" font-style="italic" fill="#000">w</text>
<text x="228" y="97.6" font-family="Liberation Sans, Arial, Helvetica, sans-serif" font-size="12" fill="#000">H<tspan font-size="8.3" dy="6.5">0</tspan></text>
<text x="204.4" y="114" textLength="60.3" lengthAdjust="spacingAndGlyphs" font-family="Liberation Sans, Arial, Helvetica, sans-serif" font-size="8.7" fill="#000">(km s<tspan font-size="5.5" dy="-2.6">−1</tspan><tspan dy="2.6">Mpc</tspan><tspan font-size="5.5" dy="-2.6">−1</tspan><tspan dy="2.6">)</tspan></text>
<path d="M225 118.1H241.3" stroke="#555" stroke-width=".9"/>
<g font-family="Liberation Sans, Arial, Helvetica, sans-serif" font-size="12.5" text-anchor="end">
<text x="239.8" y="134.3" fill="#3b4282">30</text>
<text x="239.8" y="146.5" fill="#1a9a8c">40</text>
<text x="239.8" y="158.7" fill="#5fa043">50</text>
<text x="239.8" y="170.9" fill="#f6ae1f">60</text>
<text x="239.8" y="183.1" fill="#d9532c">70</text>
<text x="239.8" y="195.3" fill="#cc2b2b">80</text>
<text x="239.8" y="207.5" fill="#c62222">90</text>
<text x="239.8" y="219.7" fill="#b01c1c">100</text>
</g>
<g font-family="Liberation Sans, Arial, Helvetica, sans-serif" font-size="12.5" text-anchor="end" fill="#000"><text x="536.1" y="26.5">flat</text><text x="536.1" y="41.8">curved</text></g>
<rect x="545.6" y="18.2" width="10.4" height="9.8" fill="#0f93e2" stroke="#1583cc" stroke-width=".6"/>
<rect x="545.3" y="33.4" width="11" height="10.2" fill="#cdcdcd"/>
</svg>
</body></html>
